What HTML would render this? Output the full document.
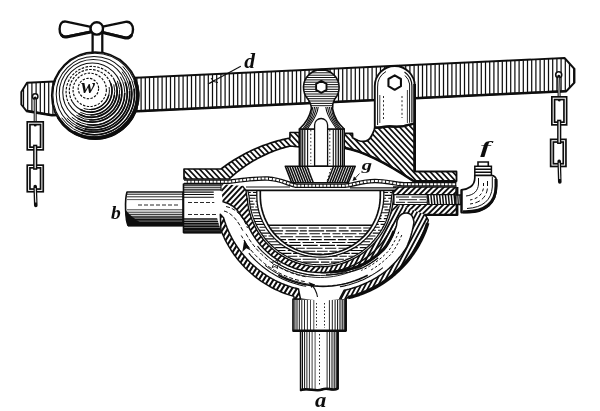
<!DOCTYPE html><html><head><meta charset="utf-8"><title>Diagram</title><style>html,body{margin:0;padding:0;background:#fff;width:600px;height:411px;overflow:hidden;font-family:"Liberation Serif",serif}</style></head><body><svg width="600" height="411" viewBox="0 0 600 411" style="display:block;position:absolute;left:0;top:0"><defs><filter id="soft" x="0" y="0" width="600" height="411" filterUnits="userSpaceOnUse"><feGaussianBlur stdDeviation="0.35"/></filter><clipPath id="c1"><path d="M27,82.7 L564.5,58.0 L574.5,69 L574.5,82.5 L566.5,91.0 L52,115.1 L26.4,110.8 L21.3,104.5 L21.3,92 Z"/></clipPath><clipPath id="c2"><path d="M51.8,95.5 a43.4,43.4 0 1,0 86.8,0 a43.4,43.4 0 1,0 -86.8,0Z"/></clipPath><clipPath id="c3"><path d="M393,187 L456,187 L456.5,214.4 L425,214.4 L428.32,220.21 L427.22,223.95 L425.98,227.64 L424.60,231.29 L423.10,234.89 L421.47,238.43 L419.72,241.91 L417.84,245.32 L415.85,248.67 L413.73,251.95 L411.50,255.14 L409.16,258.26 L406.70,261.29 L404.14,264.23 L401.48,267.07 L398.72,269.82 L395.86,272.47 L392.91,275.02 L389.87,277.46 L386.74,279.79 L383.54,282.00 L380.26,284.10 L376.90,286.09 L373.47,287.95 L369.99,289.69 L366.44,291.30 L362.83,292.78 L359.18,294.14 L355.48,295.36 L351.74,296.45 L347.96,297.41 L346,299 L320,299 L320,266.7 L320.30,266.70 L323.08,266.65 L325.85,266.49 L328.62,266.23 L331.37,265.86 L334.11,265.39 L336.83,264.81 L339.52,264.13 L342.19,263.35 L344.82,262.47 L347.42,261.49 L349.99,260.41 L352.50,259.24 L354.98,257.97 L357.40,256.60 L359.76,255.15 L362.08,253.61 L364.33,251.98 L366.52,250.27 L368.64,248.47 L370.69,246.60 L372.67,244.65 L374.57,242.62 L376.39,240.53 L378.14,238.36 L379.80,236.14 L381.38,233.85 L382.86,231.50 L384.26,229.10 L385.57,226.65 L386.78,224.15 L387.89,221.60 L388.91,219.02 L389.83,216.39 L390.65,213.74 L391.36,211.05 L391.98,208.34 L392.49,205.61 L392.90,202.86 L393.20,200.10 L393.40,197.33 L393.5,190.5 Z"/></clipPath><clipPath id="c4"><path d="M300,180 L470,180 L470,215 L426,215 L400,205 L388,215 L388,180Z"/></clipPath><clipPath id="c5"><path d="M300,180 L388,180 L388,215 L400,205 L426,215 L470,215 L470,310 L300,310Z"/></clipPath><clipPath id="c6"><path d="M221.66,231.94 L222.96,235.02 L224.35,238.05 L225.83,241.05 L227.40,243.99 L229.07,246.88 L230.82,249.73 L232.65,252.51 L234.57,255.24 L236.58,257.92 L238.66,260.52 L240.82,263.07 L243.06,265.54 L245.38,267.95 L247.76,270.28 L250.22,272.54 L252.74,274.73 L255.33,276.84 L257.99,278.86 L260.70,280.81 L263.47,282.67 L266.30,284.44 L269.18,286.13 L272.11,287.73 L275.09,289.24 L278.11,290.66 L281.17,291.98 L284.28,293.21 L287.42,294.35 L290.59,295.38 L293.79,296.32 L294.4,299 L300.5,299 L299,292 L298.57,289.00 L295.09,288.10 L291.65,287.12 L288.23,286.01 L284.86,284.77 L281.53,283.42 L278.25,281.95 L275.02,280.37 L271.84,278.66 L268.73,276.85 L265.68,274.93 L262.70,272.89 L259.79,270.75 L256.96,268.51 L254.20,266.17 L251.53,263.73 L248.95,261.19 L246.45,258.56 L244.05,255.85 L241.75,253.05 L239.55,250.16 L237.44,247.20 L235.45,244.16 L233.56,241.06 L231.78,237.88 L230.11,234.64 L228.56,231.35 L227.13,227.99 L225.81,224.59 L224.62,221.14 L223.54,217.65 L220.3,214.3 L221,232.5 Z"/></clipPath><clipPath id="c7"><path d="M320.30,272.50 L317.27,272.44 L314.24,272.27 L311.22,271.98 L308.21,271.57 L305.23,271.05 L302.26,270.41 L299.32,269.66 L296.41,268.80 L293.54,267.83 L290.71,266.75 L287.92,265.56 L285.17,264.26 L282.48,262.86 L279.85,261.36 L277.27,259.75 L274.76,258.05 L272.32,256.26 L269.94,254.37 L267.64,252.39 L265.42,250.33 L263.28,248.18 L261.22,245.95 L259.25,243.64 L257.37,241.26 L255.59,238.81 L253.90,236.29 L252.30,233.71 L250.81,231.07 L249.42,228.38 L248.13,225.63 L240,214 C236,207 230,203.5 222.5,201.5 L221.3,184 L242.4,186 L246,190.5 L247,198 L247.28,198.61 L247.63,202.25 L248.15,205.88 L248.86,209.47 L249.75,213.02 L250.82,216.52 L252.05,219.97 L253.46,223.35 L255.04,226.66 L256.78,229.88 L258.68,233.01 L260.73,236.04 L262.93,238.97 L265.28,241.78 L267.76,244.47 L270.38,247.04 L273.12,249.46 L275.98,251.75 L278.94,253.90 L282.02,255.89 L285.19,257.73 L288.44,259.40 L291.78,260.91 L295.18,262.26 L298.65,263.43 L302.18,264.42 L305.75,265.24 L309.35,265.88 L312.99,266.33 L316.64,266.61 L320.30,266.70Z"/></clipPath><clipPath id="c8"><path d="M247.80,190.50 L249.07,196.61 L249.39,200.95 L249.98,205.27 L250.83,209.54 L251.94,213.75 L253.30,217.89 L254.91,221.93 L256.77,225.87 L258.87,229.69 L261.19,233.37 L263.73,236.90 L266.49,240.28 L269.45,243.47 L272.59,246.49 L275.91,249.30 L279.40,251.91 L283.05,254.29 L286.83,256.45 L290.73,258.38 L294.75,260.06 L298.86,261.50 L303.05,262.68 L307.31,263.61 L311.61,264.27 L315.95,264.67 L320.30,264.80 L324.65,264.67 L328.99,264.27 L333.29,263.61 L337.55,262.68 L341.74,261.50 L345.85,260.06 L349.87,258.38 L353.77,256.45 L357.55,254.29 L361.20,251.91 L364.69,249.30 L368.01,246.49 L371.15,243.47 L374.11,240.28 L376.87,236.90 L379.41,233.37 L381.73,229.69 L383.83,225.87 L385.69,221.93 L387.30,217.89 L388.66,213.75 L389.77,209.54 L390.62,205.27 L391.21,200.95 L391.53,196.61 L392.80,190.50Z"/></clipPath><clipPath id="c9"><path d="M260.30,190.50 L260.30,196.00 L260.42,199.68 L260.77,203.34 L261.36,206.98 L262.19,210.57 L263.24,214.11 L264.51,217.57 L266.01,220.95 L267.72,224.23 L269.64,227.40 L271.76,230.44 L274.07,233.35 L276.56,236.11 L279.23,238.72 L282.05,241.15 L285.03,243.41 L288.15,245.48 L291.39,247.35 L294.75,249.02 L298.21,250.48 L301.76,251.73 L305.38,252.76 L309.06,253.56 L312.78,254.14 L316.53,254.48 L320.30,254.60 L324.07,254.48 L327.82,254.14 L331.54,253.56 L335.22,252.76 L338.84,251.73 L342.39,250.48 L345.85,249.02 L349.21,247.35 L352.45,245.48 L355.57,243.41 L358.55,241.15 L361.37,238.72 L364.04,236.11 L366.53,233.35 L368.84,230.44 L370.96,227.40 L372.88,224.23 L374.59,220.95 L376.09,217.57 L377.36,214.11 L378.41,210.57 L379.24,206.98 L379.83,203.34 L380.18,199.68 L380.30,196.00 L380.30,190.50Z"/></clipPath><clipPath id="c10"><path d="M250,225.3 L392,225.3 L392,262 L250,262Z"/></clipPath><clipPath id="c11"><path d="M184,169 L221.04,168.97 L223.07,167.45 L225.13,165.96 L227.21,164.50 L229.31,163.07 L231.43,161.67 L233.57,160.31 L235.73,158.98 L237.91,157.68 L240.11,156.41 L242.34,155.18 L244.57,153.98 L246.83,152.82 L249.11,151.69 L251.40,150.60 L253.71,149.54 L256.03,148.52 L258.37,147.53 L260.72,146.58 L263.09,145.66 L265.48,144.78 L267.87,143.94 L270.28,143.13 L272.70,142.36 L275.13,141.63 L277.57,140.93 L280.02,140.27 L282.49,139.65 L284.96,139.07 L287.44,138.52 L289.93,138.02 L290,132.5 L299.4,132.5 L299.4,147 L290.07,146.01 L287.80,146.58 L285.54,147.19 L283.29,147.83 L281.06,148.52 L278.84,149.24 L276.62,150.01 L274.43,150.81 L272.24,151.64 L270.08,152.52 L267.92,153.43 L265.79,154.38 L263.66,155.37 L261.56,156.39 L259.48,157.45 L257.41,158.54 L255.36,159.67 L253.34,160.84 L251.33,162.04 L249.34,163.27 L247.38,164.54 L245.43,165.84 L243.51,167.18 L241.62,168.55 L239.74,169.95 L237.90,171.38 L236.07,172.84 L234.27,174.34 L232.50,175.86 L230.76,177.42 L229.04,179.01 L184,179Z"/></clipPath><clipPath id="c12"><path d="M343.8,133.4 L352.5,133.4 L352.5,137.8 L358,140.5 C364,142.5 369,141 371.5,136 C373.5,132 374.8,130 374.8,127.3 C380,128.5 384,126 390,126.3 C398,127 404,126.5 408,125 L414.8,123.5 L414.8,171.5 L456.5,171.5 L456.5,181 L413.5,181 C382,160 358,150 343.8,147.7Z"/></clipPath><clipPath id="c13"><path d="M285.3,166.3 L355.2,166.3 L348.3,182.8 L291.7,182.8Z"/></clipPath><clipPath id="c14"><path d="M311.3,109 C309.5,118 304,125 299.4,129 L344.2,129 C339.5,125 334.3,118 332.6,109 C332.4,105 333,102 334.5,99.4 A17.8,17.8 0 1,0 308.1,99.4 C309.8,102 311.5,105 311.3,109Z"/></clipPath></defs><rect width="600" height="411" fill="#fff"/><g filter="url(#soft)"><path d="M27,82.7 L564.5,58.0 L574.5,69 L574.5,82.5 L566.5,91.0 L52,115.1 L26.4,110.8 L21.3,104.5 L21.3,92 Z" fill="#fff" stroke="none"/><g clip-path="url(#c1)"><path d="M586.30,-201.66L586.30,371.66M582.10,-201.66L582.10,371.66M577.90,-201.66L577.90,371.66M573.70,-201.66L573.70,371.66M569.50,-201.66L569.50,371.66M565.30,-201.66L565.30,371.66M561.10,-201.66L561.10,371.66M556.90,-201.66L556.90,371.66M552.70,-201.66L552.70,371.66M548.50,-201.66L548.50,371.66M544.30,-201.66L544.30,371.66M540.10,-201.66L540.10,371.66M535.90,-201.66L535.90,371.66M531.70,-201.66L531.70,371.66M527.50,-201.66L527.50,371.66M523.30,-201.66L523.30,371.66M519.10,-201.66L519.10,371.66M514.90,-201.66L514.90,371.66M510.70,-201.66L510.70,371.66M506.50,-201.66L506.50,371.66M502.30,-201.66L502.30,371.66M498.10,-201.66L498.10,371.66M493.90,-201.66L493.90,371.66M489.70,-201.66L489.70,371.66M485.50,-201.66L485.50,371.66M481.30,-201.66L481.30,371.66M477.10,-201.66L477.10,371.66M472.90,-201.66L472.90,371.66M468.70,-201.66L468.70,371.66M464.50,-201.66L464.50,371.66M460.30,-201.66L460.30,371.66M456.10,-201.66L456.10,371.66M451.90,-201.66L451.90,371.66M447.70,-201.66L447.70,371.66M443.50,-201.66L443.50,371.66M439.30,-201.66L439.30,371.66M435.10,-201.66L435.10,371.66M430.90,-201.66L430.90,371.66M426.70,-201.66L426.70,371.66M422.50,-201.66L422.50,371.66M418.30,-201.66L418.30,371.66M414.10,-201.66L414.10,371.66M409.90,-201.66L409.90,371.66M405.70,-201.66L405.70,371.66M401.50,-201.66L401.50,371.66M397.30,-201.66L397.30,371.66M393.10,-201.66L393.10,371.66M388.90,-201.66L388.90,371.66M384.70,-201.66L384.70,371.66M380.50,-201.66L380.50,371.66M376.30,-201.66L376.30,371.66M372.10,-201.66L372.10,371.66M367.90,-201.66L367.90,371.66M363.70,-201.66L363.70,371.66M359.50,-201.66L359.50,371.66M355.30,-201.66L355.30,371.66M351.10,-201.66L351.10,371.66M346.90,-201.66L346.90,371.66M342.70,-201.66L342.70,371.66M338.50,-201.66L338.50,371.66M334.30,-201.66L334.30,371.66M330.10,-201.66L330.10,371.66M325.90,-201.66L325.90,371.66M321.70,-201.66L321.70,371.66M317.50,-201.66L317.50,371.66M313.30,-201.66L313.30,371.66M309.10,-201.66L309.10,371.66M304.90,-201.66L304.90,371.66M300.70,-201.66L300.70,371.66M296.50,-201.66L296.50,371.66M292.30,-201.66L292.30,371.66M288.10,-201.66L288.10,371.66M283.90,-201.66L283.90,371.66M279.70,-201.66L279.70,371.66M275.50,-201.66L275.50,371.66M271.30,-201.66L271.30,371.66M267.10,-201.66L267.10,371.66M262.90,-201.66L262.90,371.66M258.70,-201.66L258.70,371.66M254.50,-201.66L254.50,371.66M250.30,-201.66L250.30,371.66M246.10,-201.66L246.10,371.66M241.90,-201.66L241.90,371.66M237.70,-201.66L237.70,371.66M233.50,-201.66L233.50,371.66M229.30,-201.66L229.30,371.66M225.10,-201.66L225.10,371.66M220.90,-201.66L220.90,371.66M216.70,-201.66L216.70,371.66M212.50,-201.66L212.50,371.66M208.30,-201.66L208.30,371.66M204.10,-201.66L204.10,371.66M199.90,-201.66L199.90,371.66M195.70,-201.66L195.70,371.66M191.50,-201.66L191.50,371.66M187.30,-201.66L187.30,371.66M183.10,-201.66L183.10,371.66M178.90,-201.66L178.90,371.66M174.70,-201.66L174.70,371.66M170.50,-201.66L170.50,371.66M166.30,-201.66L166.30,371.66M162.10,-201.66L162.10,371.66M157.90,-201.66L157.90,371.66M153.70,-201.66L153.70,371.66M149.50,-201.66L149.50,371.66M145.30,-201.66L145.30,371.66M141.10,-201.66L141.10,371.66M136.90,-201.66L136.90,371.66M132.70,-201.66L132.70,371.66M128.50,-201.66L128.50,371.66M124.30,-201.66L124.30,371.66M120.10,-201.66L120.10,371.66M115.90,-201.66L115.90,371.66M111.70,-201.66L111.70,371.66M107.50,-201.66L107.50,371.66M103.30,-201.66L103.30,371.66M99.10,-201.66L99.10,371.66M94.90,-201.66L94.90,371.66M90.70,-201.66L90.70,371.66M86.50,-201.66L86.50,371.66M82.30,-201.66L82.30,371.66M78.10,-201.66L78.10,371.66M73.90,-201.66L73.90,371.66M69.70,-201.66L69.70,371.66M65.50,-201.66L65.50,371.66M61.30,-201.66L61.30,371.66M57.10,-201.66L57.10,371.66M52.90,-201.66L52.90,371.66M48.70,-201.66L48.70,371.66M44.50,-201.66L44.50,371.66M40.30,-201.66L40.30,371.66M36.10,-201.66L36.10,371.66M31.90,-201.66L31.90,371.66M27.70,-201.66L27.70,371.66M23.50,-201.66L23.50,371.66M19.30,-201.66L19.30,371.66M15.10,-201.66L15.10,371.66M10.90,-201.66L10.90,371.66M6.70,-201.66L6.70,371.66" stroke="#111" stroke-width="1.25" fill="none"/></g><path d="M27,82.7 L564.5,58.0 L574.5,69 L574.5,82.5 L566.5,91.0 L52,115.1 L26.4,110.8 L21.3,104.5 L21.3,92 Z" fill="none" stroke="#111" stroke-width="1.90" stroke-linejoin="round"/>
<path d="M26.4,111 L52,115.3 L566.5,91.2" stroke="#111" stroke-width="2.4" fill="none" stroke-linejoin="round"/>
<circle cx="35.2" cy="96.5" r="2.7" fill="#fff" stroke="#111" stroke-width="1.5"/>
<circle cx="558.7" cy="74.7" r="3" fill="#fff" stroke="#111" stroke-width="1.6"/>
<path d="M35.2,98.0 L35.2,125.0" stroke="#111" stroke-width="3.0" fill="none" stroke-linecap="round"/><path d="M35.2,99.5 L35.2,122.0" stroke="#fff" stroke-width="0.9" fill="none"/><rect x="28.6" y="123.2" width="13.3" height="25.3" fill="none" stroke="#111" stroke-width="4.4"/><rect x="28.6" y="123.2" width="13.3" height="25.3" fill="none" stroke="#fff" stroke-width="1.0"/><rect x="28.6" y="166.5" width="13.3" height="23.9" fill="none" stroke="#111" stroke-width="4.4"/><rect x="28.6" y="166.5" width="13.3" height="23.9" fill="none" stroke="#fff" stroke-width="1.0"/><path d="M35.2,144.7 L35.2,169.8" stroke="#111" stroke-width="4.2" fill="none"/><path d="M35.2,146.2 L35.2,168.3" stroke="#fff" stroke-width="1.2" fill="none"/><path d="M35.2,186.6 L35.8,205.5" stroke="#111" stroke-width="3.6" fill="none" stroke-linecap="round"/><path d="M35.2,188.1 L35.8,202.5" stroke="#fff" stroke-width="1.0" fill="none"/>
<path d="M558.7,76.2 L559.2,100.0" stroke="#111" stroke-width="3.0" fill="none" stroke-linecap="round"/><path d="M558.7,77.7 L559.2,97.0" stroke="#fff" stroke-width="0.9" fill="none"/><rect x="553.2" y="98.2" width="12.1" height="25.3" fill="none" stroke="#111" stroke-width="4.4"/><rect x="553.2" y="98.2" width="12.1" height="25.3" fill="none" stroke="#fff" stroke-width="1.0"/><rect x="552.0" y="140.7" width="12.6" height="24.4" fill="none" stroke="#111" stroke-width="4.4"/><rect x="552.0" y="140.7" width="12.6" height="24.4" fill="none" stroke="#fff" stroke-width="1.0"/><path d="M559.2,119.7 L559.2,144.0" stroke="#111" stroke-width="4.2" fill="none"/><path d="M559.2,121.2 L559.2,142.5" stroke="#fff" stroke-width="1.2" fill="none"/><path d="M559.2,161.3 L559.8,182.0" stroke="#111" stroke-width="3.6" fill="none" stroke-linecap="round"/><path d="M559.2,162.8 L559.8,179.0" stroke="#fff" stroke-width="1.0" fill="none"/>
<path d="M92.6,33 L92.6,56 L102.3,56 L102.3,33 Z" fill="#fff" stroke="#111" stroke-width="2.3"/>
<path d="M90.8,26.9 L66,21.6 C61.5,21 59.6,24.5 59.6,29 C59.6,34 61.5,37.3 66.5,36.6 L90.8,31.8 Z" fill="#fff" stroke="#111" stroke-width="2.4" stroke-linejoin="round"/>
<path d="M102.8,26.7 L125.5,21.9 C130.5,21.2 133,25 133,29.6 C133,34.6 130.5,38.2 125.5,37.6 L102.8,32.3 Z" fill="#fff" stroke="#111" stroke-width="2.4" stroke-linejoin="round"/>
<path d="M62,35.5 C63,37 64.5,37.2 66.5,36.9 L90.8,32.1 M102.8,32.6 L125.5,37.9 C128,38.2 130,37.4 131.3,35.5" fill="none" stroke="#111" stroke-width="3.1" stroke-linecap="round"/>
<circle cx="96.8" cy="28.4" r="6.2" fill="#fff" stroke="#111" stroke-width="2.4"/>
<ellipse cx="95.2" cy="95.5" rx="43.4" ry="43.4" fill="#fff" stroke="#111" stroke-width="1.8"/>
<g clip-path="url(#c2)"><circle cx="88.40" cy="88.50" r="10.20" fill="none" stroke="#111" stroke-width="1.15" stroke-dasharray="2.4 1.4"/><circle cx="89.71" cy="89.85" r="16.66" fill="none" stroke="#111" stroke-width="1.15" stroke-dasharray="2.4 1.4"/><path d="M109.10,87.01 A19.20,19.20 0 0,1 83.62,108.38" fill="none" stroke="#111" stroke-width="1.00"/><path d="M108.91,94.60 A19.20,19.20 0 0,1 91.13,109.52" fill="none" stroke="#111" stroke-width="1.49"/><path d="M72.18,101.50 A21.34,21.34 0 0,1 109.15,80.16" fill="none" stroke="#111" stroke-width="1.15" stroke-dasharray="2.6 1.3"/><path d="M109.15,80.16 A21.34,21.34 0 0,1 72.18,101.50" fill="none" stroke="#111" stroke-width="1.2"/><path d="M110.72,83.53 A21.34,21.34 0 0,1 80.00,109.32" fill="none" stroke="#111" stroke-width="1.60"/><path d="M113.76,84.36 A23.69,23.69 0 0,1 80.35,112.40" fill="none" stroke="#111" stroke-width="1.00"/><path d="M114.54,94.77 A23.69,23.69 0 0,1 90.47,114.97" fill="none" stroke="#111" stroke-width="1.53"/><path d="M69.33,104.56 A25.65,25.65 0 0,1 113.75,78.91" fill="none" stroke="#111" stroke-width="1.15" stroke-dasharray="2.6 1.3"/><path d="M113.75,78.91 A25.65,25.65 0 0,1 69.33,104.56" fill="none" stroke="#111" stroke-width="1.2"/><path d="M115.64,82.96 A25.65,25.65 0 0,1 78.72,113.95" fill="none" stroke="#111" stroke-width="1.65"/><path d="M117.35,80.83 A27.81,27.81 0 0,1 76.39,115.20" fill="none" stroke="#111" stroke-width="1.00"/><path d="M119.68,94.14 A27.81,27.81 0 0,1 89.09,119.81" fill="none" stroke="#111" stroke-width="1.57"/><circle cx="92.34" cy="92.56" r="29.57" fill="none" stroke="#111" stroke-width="1.05"/><path d="M120.13,82.44 A29.57,29.57 0 0,1 77.55,118.17" fill="none" stroke="#111" stroke-width="1.70"/><path d="M120.21,76.55 A31.99,31.99 0 0,1 71.81,117.16" fill="none" stroke="#111" stroke-width="1.00"/><path d="M124.78,92.90 A31.99,31.99 0 0,1 87.12,124.50" fill="none" stroke="#111" stroke-width="1.61"/><circle cx="93.24" cy="93.48" r="34.00" fill="none" stroke="#111" stroke-width="1.05"/><path d="M125.20,81.85 A34.00,34.00 0 0,1 76.24,122.93" fill="none" stroke="#111" stroke-width="1.75"/><path d="M122.08,71.66 A36.10,36.10 0 0,1 66.80,118.04" fill="none" stroke="#111" stroke-width="1.00"/><path d="M129.62,91.01 A36.10,36.10 0 0,1 84.55,128.83" fill="none" stroke="#111" stroke-width="1.65"/><circle cx="94.02" cy="94.28" r="37.80" fill="none" stroke="#111" stroke-width="1.05"/><path d="M129.54,81.35 A37.80,37.80 0 0,1 75.11,127.02" fill="none" stroke="#111" stroke-width="1.80"/><path d="M122.79,66.37 A40.09,40.09 0 1,1 61.60,117.71" fill="none" stroke="#111" stroke-width="1.00"/><path d="M134.05,88.52 A40.09,40.09 0 0,1 81.45,132.65" fill="none" stroke="#111" stroke-width="1.69"/><circle cx="94.87" cy="95.16" r="41.98" fill="none" stroke="#111" stroke-width="1.05"/><path d="M134.31,80.80 A41.98,41.98 0 0,1 73.87,131.51" fill="none" stroke="#111" stroke-width="1.85"/><path d="M122.34,60.85 A44.02,44.02 0 1,1 56.37,116.20" fill="none" stroke="#111" stroke-width="1.00"/><path d="M138.09,85.46 A44.02,44.02 0 0,1 77.87,135.98" fill="none" stroke="#111" stroke-width="1.73"/><path fill="#111" d="M129.32,68.84 A43.30,43.30 0 0,1 63.02,124.47 A43.53,43.53 0 0,0 129.32,68.84Z"/></g>
<path d="M134.26,77.29 A43.10,43.10 0 0,1 57.87,117.05" fill="none" stroke="#111" stroke-width="2.6"/>
<text x="81.3" y="93" font-family="'Liberation Serif', serif" font-size="20.5" font-style="italic" font-weight="bold" fill="#111">w</text>
<text x="244.2" y="67.6" font-family="'Liberation Serif', serif" font-size="21.5" font-style="italic" font-weight="bold" fill="#111">d</text>
<text transform="translate(361.8,169.8) scale(1.32,1)" x="0" y="0" font-family="'Liberation Serif', serif" font-size="15.6" font-style="italic" font-weight="bold" fill="#111">g</text>
<text transform="translate(480.2,152.9) scale(1.82,1)" x="0" y="0" font-family="'Liberation Serif', serif" font-size="17.5" font-style="italic" font-weight="bold" fill="#111">f</text>
<text x="111" y="218.9" font-family="'Liberation Serif', serif" font-size="19.5" font-style="italic" font-weight="bold" fill="#111">b</text>
<text transform="translate(315,407.1) scale(1.13,1)" x="0" y="0" font-family="'Liberation Serif', serif" font-size="20" font-style="italic" font-weight="bold" fill="#111">a</text>
<path d="M240.8,66.2 L208,84" stroke="#111" stroke-width="1.1" fill="none"/>
<path d="M211,78 L213.5,81.5 L218,82.5 M209.5,83.5 L215,80" stroke="#111" stroke-width="1" fill="none"/>
<path d="M127,192 L183,192 L183,225.5 L128,225.5 C125.5,220 124.5,200 127,192Z" fill="#fff" stroke="#111" stroke-width="1.60" stroke-linejoin="round"/>
<path d="M127,194.2 L183,194.2" fill="none" stroke="#111" stroke-width="1.00" stroke-linejoin="round" />
<path d="M127,196.8 L183,196.8" fill="none" stroke="#111" stroke-width="0.90" stroke-linejoin="round" />
<path d="M127,199.6 L183,199.6" fill="none" stroke="#111" stroke-width="0.70" stroke-linejoin="round" />
<path d="M127,209.8 L183,209.8" fill="none" stroke="#111" stroke-width="0.80" stroke-linejoin="round" />
<path d="M127,212.2 L183,212.2" fill="none" stroke="#111" stroke-width="0.90" stroke-linejoin="round" />
<path d="M127,214.3 L183,214.3" fill="none" stroke="#111" stroke-width="1.00" stroke-linejoin="round" />
<path d="M127,216.2 L183,216.2" fill="none" stroke="#111" stroke-width="1.10" stroke-linejoin="round" />
<path d="M127,217.9 L183,217.9" fill="none" stroke="#111" stroke-width="1.20" stroke-linejoin="round" />
<path d="M127,219.5 L183,219.5" fill="none" stroke="#111" stroke-width="1.30" stroke-linejoin="round" />
<path d="M127,220.9 L183,220.9" fill="none" stroke="#111" stroke-width="1.30" stroke-linejoin="round" />
<path d="M127,222.2 L183,222.2" fill="none" stroke="#111" stroke-width="1.40" stroke-linejoin="round" />
<path d="M127,223.4 L183,223.4" fill="none" stroke="#111" stroke-width="1.40" stroke-linejoin="round" />
<path d="M127,224.5 L183,224.5" fill="none" stroke="#111" stroke-width="1.40" stroke-linejoin="round" />
<path d="M138,205 L180,205" fill="none" stroke="#111" stroke-width="0.90" stroke-linejoin="round" stroke-dasharray="4 2"/>
<path d="M125.5,210 C125.5,216 126.5,221 128,225.9 L147,225.9 C139,222.5 131.5,217 125.5,210Z" fill="#111"/>
<path d="M128,225.6 L183,225.6" fill="none" stroke="#111" stroke-width="2.00" stroke-linejoin="round" />
<path d="M183.5,184 L221.3,184 L221.3,200 L219.5,207 L222,214 L221,232.5 L183.5,232.5Z" fill="#fff" stroke="#111" stroke-width="1.60" stroke-linejoin="round"/>
<path d="M184,185.8 L221,185.8" fill="none" stroke="#111" stroke-width="1.10" stroke-linejoin="round" />
<path d="M184,187.8 L221,187.8" fill="none" stroke="#111" stroke-width="1.10" stroke-linejoin="round" />
<path d="M184,189.9 L221,189.9" fill="none" stroke="#111" stroke-width="1.10" stroke-linejoin="round" />
<path d="M184,192.1 L221,192.1" fill="none" stroke="#111" stroke-width="1.10" stroke-linejoin="round" />
<path d="M184,194.5 L221,194.5" fill="none" stroke="#111" stroke-width="1.10" stroke-linejoin="round" />
<path d="M184,197.2 L221,197.2" fill="none" stroke="#111" stroke-width="1.10" stroke-linejoin="round" />
<path d="M184,219.0 L221,219.0" fill="none" stroke="#111" stroke-width="1.35" stroke-linejoin="round" />
<path d="M184,221.2 L221,221.2" fill="none" stroke="#111" stroke-width="1.35" stroke-linejoin="round" />
<path d="M184,223.2 L221,223.2" fill="none" stroke="#111" stroke-width="1.35" stroke-linejoin="round" />
<path d="M184,225.0 L221,225.0" fill="none" stroke="#111" stroke-width="1.35" stroke-linejoin="round" />
<path d="M184,226.7 L221,226.7" fill="none" stroke="#111" stroke-width="1.35" stroke-linejoin="round" />
<path d="M184,228.3 L221,228.3" fill="none" stroke="#111" stroke-width="1.35" stroke-linejoin="round" />
<path d="M184,229.7 L221,229.7" fill="none" stroke="#111" stroke-width="1.35" stroke-linejoin="round" />
<path d="M184,231.0 L221,231.0" fill="none" stroke="#111" stroke-width="1.35" stroke-linejoin="round" />
<path d="M188,202.5 L219,202.5" fill="none" stroke="#111" stroke-width="0.90" stroke-linejoin="round" stroke-dasharray="4 2"/>
<path d="M188,214.5 L219,214.5" fill="none" stroke="#111" stroke-width="0.90" stroke-linejoin="round" stroke-dasharray="4 2"/>
<path d="M183.5,232.3 L221,232.3" fill="none" stroke="#111" stroke-width="2.20" stroke-linejoin="round" />
<path d="M300.6,330 L338,330 L338,388.5 C332,392 328,387 322,389.5 C316,392 308,387.5 300.6,390.5Z" fill="#fff" stroke="#111" stroke-width="1.60" stroke-linejoin="round"/>
<path d="M302.5,331 L302.5,389.5" fill="none" stroke="#111" stroke-width="1.05" stroke-linejoin="round" />
<path d="M336.2,331 L336.2,389" fill="none" stroke="#111" stroke-width="1.15" stroke-linejoin="round" />
<path d="M304.6,331 L304.6,389.5" fill="none" stroke="#111" stroke-width="0.99" stroke-linejoin="round" />
<path d="M334.2,331 L334.2,389" fill="none" stroke="#111" stroke-width="1.09" stroke-linejoin="round" />
<path d="M306.9,331 L306.9,389.5" fill="none" stroke="#111" stroke-width="0.93" stroke-linejoin="round" />
<path d="M332.0,331 L332.0,389" fill="none" stroke="#111" stroke-width="1.03" stroke-linejoin="round" />
<path d="M309.4,331 L309.4,389.5" fill="none" stroke="#111" stroke-width="0.87" stroke-linejoin="round" />
<path d="M329.6,331 L329.6,389" fill="none" stroke="#111" stroke-width="0.97" stroke-linejoin="round" />
<path d="M312.1,331 L312.1,389.5" fill="none" stroke="#111" stroke-width="0.81" stroke-linejoin="round" />
<path d="M327.1,331 L327.1,389" fill="none" stroke="#111" stroke-width="0.91" stroke-linejoin="round" />
<path d="M315.1,331 L315.1,389.5" fill="none" stroke="#111" stroke-width="0.75" stroke-linejoin="round" />
<path d="M319.5,334 L319.5,386" fill="none" stroke="#111" stroke-width="0.90" stroke-linejoin="round" stroke-dasharray="1.5 2"/>
<path d="M337.8,331 L337.8,389" fill="none" stroke="#111" stroke-width="2.00" stroke-linejoin="round" />
<path d="M300.6,390 C308,387.5 316,392 322,389.5 C328,387 332,391.5 338,388.5" fill="none" stroke="#111" stroke-width="2.60" stroke-linejoin="round" />
<path d="M293,299 L346,299 L346,331 L293,331Z" fill="#fff" stroke="#111" stroke-width="1.70" stroke-linejoin="round"/>
<path d="M294.9,300 L294.9,330.5" fill="none" stroke="#111" stroke-width="1.10" stroke-linejoin="round" />
<path d="M344.2,300 L344.2,330.5" fill="none" stroke="#111" stroke-width="1.20" stroke-linejoin="round" />
<path d="M297.0,300 L297.0,330.5" fill="none" stroke="#111" stroke-width="1.05" stroke-linejoin="round" />
<path d="M342.2,300 L342.2,330.5" fill="none" stroke="#111" stroke-width="1.15" stroke-linejoin="round" />
<path d="M299.3,300 L299.3,330.5" fill="none" stroke="#111" stroke-width="1.00" stroke-linejoin="round" />
<path d="M340.0,300 L340.0,330.5" fill="none" stroke="#111" stroke-width="1.10" stroke-linejoin="round" />
<path d="M301.8,300 L301.8,330.5" fill="none" stroke="#111" stroke-width="0.95" stroke-linejoin="round" />
<path d="M337.6,300 L337.6,330.5" fill="none" stroke="#111" stroke-width="1.05" stroke-linejoin="round" />
<path d="M304.5,300 L304.5,330.5" fill="none" stroke="#111" stroke-width="0.90" stroke-linejoin="round" />
<path d="M335.1,300 L335.1,330.5" fill="none" stroke="#111" stroke-width="1.00" stroke-linejoin="round" />
<path d="M307.4,300 L307.4,330.5" fill="none" stroke="#111" stroke-width="0.85" stroke-linejoin="round" />
<path d="M332.3,300 L332.3,330.5" fill="none" stroke="#111" stroke-width="0.95" stroke-linejoin="round" />
<path d="M310.5,300 L310.5,330.5" fill="none" stroke="#111" stroke-width="0.80" stroke-linejoin="round" />
<path d="M329.4,300 L329.4,330.5" fill="none" stroke="#111" stroke-width="0.90" stroke-linejoin="round" />
<path d="M313.8,300 L313.8,330.5" fill="none" stroke="#111" stroke-width="0.75" stroke-linejoin="round" />
<path d="M316.5,303 L316.5,328" fill="none" stroke="#111" stroke-width="0.90" stroke-linejoin="round" stroke-dasharray="1.5 2"/>
<path d="M324.5,303 L324.5,328" fill="none" stroke="#111" stroke-width="0.90" stroke-linejoin="round" stroke-dasharray="1.5 2"/>
<path d="M293,330.8 L346,330.8" fill="none" stroke="#111" stroke-width="2.40" stroke-linejoin="round" />
<path d="M345.8,299 L345.8,331" fill="none" stroke="#111" stroke-width="2.20" stroke-linejoin="round" />
<path d="M432.30,191.00 L432.15,196.72 L431.70,202.42 L430.95,208.10 L429.91,213.72 L428.58,219.29 L426.95,224.78 L425.04,230.17 L422.85,235.46 L420.39,240.62 L417.66,245.65 L414.67,250.53 L411.43,255.24 L407.94,259.78 L404.23,264.14 L400.29,268.29 L396.14,272.23 L391.78,275.94 L387.24,279.43 L382.53,282.67 L377.65,285.66 L372.62,288.39 L367.46,290.85 L362.17,293.04 L356.78,294.95 L351.29,296.58 L345.72,297.91 L340.10,298.95 L334.42,299.70 L328.72,300.15 L323.00,300.30 L317.28,300.15 L311.58,299.70 L305.90,298.95 L300.28,297.91 L294.71,296.58 L289.22,294.95 L283.83,293.04 L278.54,290.85 L273.38,288.39 L268.35,285.66 L263.47,282.67 L258.76,279.43 L254.22,275.94 L249.86,272.23 L245.71,268.29 L241.77,264.14 L238.06,259.78 L234.57,255.24 L231.33,250.53 L228.34,245.65 L225.61,240.62 L223.15,235.46 L220.96,230.17 L219.05,224.78 L217.42,219.29 L216.09,213.72 L215.05,208.10 L214.30,202.42 L213.85,196.72 L213.70,191.00Z" fill="#fff"/>
<path d="M393,187 L456,187 L456.5,214.4 L425,214.4 L428.32,220.21 L427.22,223.95 L425.98,227.64 L424.60,231.29 L423.10,234.89 L421.47,238.43 L419.72,241.91 L417.84,245.32 L415.85,248.67 L413.73,251.95 L411.50,255.14 L409.16,258.26 L406.70,261.29 L404.14,264.23 L401.48,267.07 L398.72,269.82 L395.86,272.47 L392.91,275.02 L389.87,277.46 L386.74,279.79 L383.54,282.00 L380.26,284.10 L376.90,286.09 L373.47,287.95 L369.99,289.69 L366.44,291.30 L362.83,292.78 L359.18,294.14 L355.48,295.36 L351.74,296.45 L347.96,297.41 L346,299 L320,299 L320,266.7 L320.30,266.70 L323.08,266.65 L325.85,266.49 L328.62,266.23 L331.37,265.86 L334.11,265.39 L336.83,264.81 L339.52,264.13 L342.19,263.35 L344.82,262.47 L347.42,261.49 L349.99,260.41 L352.50,259.24 L354.98,257.97 L357.40,256.60 L359.76,255.15 L362.08,253.61 L364.33,251.98 L366.52,250.27 L368.64,248.47 L370.69,246.60 L372.67,244.65 L374.57,242.62 L376.39,240.53 L378.14,238.36 L379.80,236.14 L381.38,233.85 L382.86,231.50 L384.26,229.10 L385.57,226.65 L386.78,224.15 L387.89,221.60 L388.91,219.02 L389.83,216.39 L390.65,213.74 L391.36,211.05 L391.98,208.34 L392.49,205.61 L392.90,202.86 L393.20,200.10 L393.40,197.33 L393.5,190.5 Z" fill="#fff"/>
<g clip-path="url(#c4)"><g clip-path="url(#c3)"><path d="M252.33,242.90L386.90,108.33M255.16,245.73L389.73,111.16M257.99,248.56L392.56,113.99M260.82,251.39L395.39,116.82M263.64,254.22L398.22,119.64M266.47,257.05L401.05,122.47M269.30,259.88L403.88,125.30M272.13,262.70L406.70,128.13M274.96,265.53L409.53,130.96M277.79,268.36L412.36,133.79M280.61,271.19L415.19,136.61M283.44,274.02L418.02,139.44M286.27,276.85L420.85,142.27M289.10,279.67L423.67,145.10M291.93,282.50L426.50,147.93M294.76,285.33L429.33,150.76M297.59,288.16L432.16,153.59M300.41,290.99L434.99,156.41M303.24,293.82L437.82,159.24M306.07,296.65L440.65,162.07M308.90,299.47L443.47,164.90M311.73,302.30L446.30,167.73M314.56,305.13L449.13,170.56M317.38,307.96L451.96,173.38M320.21,310.79L454.79,176.21M323.04,313.62L457.62,179.04M325.87,316.44L460.44,181.87M328.70,319.27L463.27,184.70M331.53,322.10L466.10,187.53M334.35,324.93L468.93,190.35M337.18,327.76L471.76,193.18M340.01,330.59L474.59,196.01M342.84,333.41L477.41,198.84M345.67,336.24L480.24,201.67M348.50,339.07L483.07,204.50M351.33,341.90L485.90,207.33M354.15,344.73L488.73,210.15M356.98,347.56L491.56,212.98M359.81,350.39L494.39,215.81M362.64,353.21L497.21,218.64M365.47,356.04L500.04,221.47M368.30,358.87L502.87,224.30M371.12,361.70L505.70,227.12M373.95,364.53L508.53,229.95M376.78,367.36L511.36,232.78M379.61,370.18L514.18,235.61M382.44,373.01L517.01,238.44M385.27,375.84L519.84,241.27M388.10,378.67L522.67,244.10" stroke="#111" stroke-width="1.90" fill="none"/></g></g>
<g clip-path="url(#c5)"><g clip-path="url(#c3)"><path d="M255.59,281.14L344.94,113.10M258.95,282.92L348.29,114.88M262.30,284.70L351.65,116.66M265.66,286.49L355.00,118.45M269.01,288.27L358.36,120.23M272.37,290.06L361.71,122.02M275.72,291.84L365.07,123.80M279.08,293.62L368.43,125.58M282.43,295.41L371.78,127.37M285.79,297.19L375.14,129.15M289.14,298.98L378.49,130.94M292.50,300.76L381.85,132.72M295.85,302.54L385.20,134.50M299.21,304.33L388.56,136.29M302.56,306.11L391.91,138.07M305.92,307.90L395.27,139.86M309.27,309.68L398.62,141.64M312.63,311.46L401.98,143.42M315.98,313.25L405.33,145.21M319.34,315.03L408.69,146.99M322.69,316.82L412.04,148.78M326.05,318.60L415.40,150.56M329.41,320.38L418.75,152.34M332.76,322.17L422.11,154.13M336.12,323.95L425.46,155.91M339.47,325.74L428.82,157.70M342.83,327.52L432.17,159.48M346.18,329.30L435.53,161.26M349.54,331.09L438.88,163.05M352.89,332.87L442.24,164.83M356.25,334.66L445.59,166.62M359.60,336.44L448.95,168.40M362.96,338.22L452.31,170.18M366.31,340.01L455.66,171.97M369.67,341.79L459.02,173.75M373.02,343.58L462.37,175.54M376.38,345.36L465.73,177.32M379.73,347.14L469.08,179.10M383.09,348.93L472.44,180.89M386.44,350.71L475.79,182.67M389.80,352.50L479.15,184.46M393.15,354.28L482.50,186.24M396.51,356.06L485.86,188.02M399.86,357.85L489.21,189.81M403.22,359.63L492.57,191.59M406.57,361.42L495.92,193.38M409.93,363.20L499.28,195.16M413.29,364.98L502.63,196.94M416.64,366.77L505.99,198.73M420.00,368.55L509.34,200.51M423.35,370.34L512.70,202.30M426.71,372.12L516.05,204.08M430.06,373.90L519.41,205.86" stroke="#111" stroke-width="1.80" fill="none"/></g></g>
<path d="M320,299 L339.5,299 L344.10,290.28 L346.57,289.74 L349.02,289.14 L351.46,288.48 L353.88,287.75 L356.28,286.97 L358.66,286.13 L361.02,285.22 L363.36,284.26 L365.67,283.25 L367.96,282.17 L370.22,281.04 L372.45,279.85 L374.65,278.60 L376.82,277.31 L378.96,275.95 L381.07,274.55 L383.14,273.09 L385.17,271.58 L387.16,270.02 L389.09,268.39 L390.94,266.65 L392.74,264.87 L394.49,263.05 L396.20,261.19 L397.85,259.29 L399.46,257.35 L401.02,255.37 L402.52,253.36 L403.98,251.31 L405.38,249.22 L406.69,247.08 L407.69,244.75 L408.62,242.39 L409.49,240.03 L410.29,237.66 L411.03,235.27 L411.70,232.88 L412.31,230.48 L412.85,228.08 L413.34,225.68 C415,221 413,213 406,213 C399.5,213 396.5,220 396.6,225.1 L396.65,225.12 L395.89,227.45 L395.06,229.76 L394.16,232.05 L393.20,234.32 L392.16,236.57 L391.05,238.79 L389.87,240.98 L388.63,243.14 L387.32,245.27 L385.94,247.37 L384.32,249.28 L382.55,251.04 L380.72,252.75 L378.85,254.40 L376.94,255.99 L374.98,257.52 L372.98,258.99 L370.94,260.40 L368.87,261.75 L366.76,263.03 L364.61,264.24 L362.44,265.39 L360.17,266.36 L357.86,267.22 L355.54,268.01 L353.21,268.73 L350.86,269.37 L348.50,269.94 L346.14,270.44 L343.77,270.87 L341.40,271.22 L339.06,271.63 L336.71,271.98 L334.37,272.27 L332.02,272.48 L329.66,272.62 L327.32,272.70 L324.97,272.70 L322.63,272.63 L320.30,272.50 L320,272.5 Z" fill="#fff"/>
<path d="M339.5,299 L344.10,290.28 L346.57,289.74 L349.02,289.14 L351.46,288.48 L353.88,287.75 L356.28,286.97 L358.66,286.13 L361.02,285.22 L363.36,284.26 L365.67,283.25 L367.96,282.17 L370.22,281.04 L372.45,279.85 L374.65,278.60 L376.82,277.31 L378.96,275.95 L381.07,274.55 L383.14,273.09 L385.17,271.58 L387.16,270.02 L389.09,268.39 L390.94,266.65 L392.74,264.87 L394.49,263.05 L396.20,261.19 L397.85,259.29 L399.46,257.35 L401.02,255.37 L402.52,253.36 L403.98,251.31 L405.38,249.22 L406.69,247.08 L407.69,244.75 L408.62,242.39 L409.49,240.03 L410.29,237.66 L411.03,235.27 L411.70,232.88 L412.31,230.48 L412.85,228.08 L413.34,225.68 C415,221 413,213 406,213 C399.5,213 396.5,220 396.6,225.1 L396.65,225.12 L395.89,227.45 L395.06,229.76 L394.16,232.05 L393.20,234.32 L392.16,236.57 L391.05,238.79 L389.87,240.98 L388.63,243.14 L387.32,245.27 L385.94,247.37 L384.32,249.28 L382.55,251.04 L380.72,252.75 L378.85,254.40 L376.94,255.99 L374.98,257.52 L372.98,258.99 L370.94,260.40 L368.87,261.75 L366.76,263.03 L364.61,264.24 L362.44,265.39 L360.17,266.36 L357.86,267.22 L355.54,268.01 L353.21,268.73 L350.86,269.37 L348.50,269.94 L346.14,270.44 L343.77,270.87 L341.40,271.22 L339.06,271.63 L336.71,271.98 L334.37,272.27 L332.02,272.48 L329.66,272.62 L327.32,272.70 L324.97,272.70 L322.63,272.63 L320.30,272.50" fill="none" stroke="#111" stroke-width="1.50" stroke-linejoin="round" />
<path d="M393,187 L456,187 L456.5,214.4 L425,214.4 L428.32,220.21 L427.22,223.95 L425.98,227.64 L424.60,231.29 L423.10,234.89 L421.47,238.43 L419.72,241.91 L417.84,245.32 L415.85,248.67 L413.73,251.95 L411.50,255.14 L409.16,258.26 L406.70,261.29 L404.14,264.23 L401.48,267.07 L398.72,269.82 L395.86,272.47 L392.91,275.02 L389.87,277.46 L386.74,279.79 L383.54,282.00 L380.26,284.10 L376.90,286.09 L373.47,287.95 L369.99,289.69 L366.44,291.30 L362.83,292.78 L359.18,294.14 L355.48,295.36 L351.74,296.45 L347.96,297.41 L346,299" fill="none" stroke="#111" stroke-width="1.50" stroke-linejoin="round" />
<path d="M320.30,266.70 L323.08,266.65 L325.85,266.49 L328.62,266.23 L331.37,265.86 L334.11,265.39 L336.83,264.81 L339.52,264.13 L342.19,263.35 L344.82,262.47 L347.42,261.49 L349.99,260.41 L352.50,259.24 L354.98,257.97 L357.40,256.60 L359.76,255.15 L362.08,253.61 L364.33,251.98 L366.52,250.27 L368.64,248.47 L370.69,246.60 L372.67,244.65 L374.57,242.62 L376.39,240.53 L378.14,238.36 L379.80,236.14 L381.38,233.85 L382.86,231.50 L384.26,229.10 L385.57,226.65 L386.78,224.15 L387.89,221.60 L388.91,219.02 L389.83,216.39 L390.65,213.74 L391.36,211.05 L391.98,208.34 L392.49,205.61 L392.90,202.86 L393.20,200.10 L393.40,197.33 L393.5,190.5" fill="none" stroke="#111" stroke-width="1.40" stroke-linejoin="round" />
<path d="M427.72,223.01 L426.54,226.64 L425.24,230.22 L423.81,233.75 L422.26,237.23 L420.59,240.66 L418.81,244.02 L416.91,247.32 L414.89,250.55 L412.76,253.71 L410.53,256.80 L408.19,259.80 L405.74,262.72 L403.20,265.56 L400.55,268.30 L397.82,270.95 L394.99,273.51 L392.08,275.96 L389.08,278.31 L386.00,280.56 L382.85,282.70 L379.63,284.72 L376.33,286.63 L372.97,288.43 L369.55,290.11 L366.08,291.67 L362.55,293.11 L358.97,294.42 L355.36,295.61 L351.70,296.67 L348.00,297.61" fill="none" stroke="#111" stroke-width="3.60" stroke-linejoin="round" />
<path d="M424.5,215 L457.3,215 L457.3,187" fill="none" stroke="#111" stroke-width="2.20" stroke-linejoin="round" />
<path d="M221.66,231.94 L222.96,235.02 L224.35,238.05 L225.83,241.05 L227.40,243.99 L229.07,246.88 L230.82,249.73 L232.65,252.51 L234.57,255.24 L236.58,257.92 L238.66,260.52 L240.82,263.07 L243.06,265.54 L245.38,267.95 L247.76,270.28 L250.22,272.54 L252.74,274.73 L255.33,276.84 L257.99,278.86 L260.70,280.81 L263.47,282.67 L266.30,284.44 L269.18,286.13 L272.11,287.73 L275.09,289.24 L278.11,290.66 L281.17,291.98 L284.28,293.21 L287.42,294.35 L290.59,295.38 L293.79,296.32 L294.4,299 L300.5,299 L299,292 L298.57,289.00 L295.09,288.10 L291.65,287.12 L288.23,286.01 L284.86,284.77 L281.53,283.42 L278.25,281.95 L275.02,280.37 L271.84,278.66 L268.73,276.85 L265.68,274.93 L262.70,272.89 L259.79,270.75 L256.96,268.51 L254.20,266.17 L251.53,263.73 L248.95,261.19 L246.45,258.56 L244.05,255.85 L241.75,253.05 L239.55,250.16 L237.44,247.20 L235.45,244.16 L233.56,241.06 L231.78,237.88 L230.11,234.64 L228.56,231.35 L227.13,227.99 L225.81,224.59 L224.62,221.14 L223.54,217.65 L220.3,214.3 L221,232.5 Z" fill="#fff" stroke="none"/><g clip-path="url(#c6)"><path d="M175.74,281.28L239.95,178.54M179.22,283.45L243.42,180.71M182.70,285.63L246.90,182.88M186.18,287.80L250.38,185.06M189.65,289.97L253.85,187.23M193.13,292.15L257.33,189.40M196.61,294.32L260.81,191.57M200.08,296.49L264.28,193.75M203.56,298.66L267.76,195.92M207.04,300.84L271.24,198.09M210.51,303.01L274.72,200.26M213.99,305.18L278.19,202.44M217.47,307.35L281.67,204.61M220.95,309.53L285.15,206.78M224.42,311.70L288.62,208.96M227.90,313.87L292.10,211.13M231.38,316.04L295.58,213.30M234.85,318.22L299.05,215.47M238.33,320.39L302.53,217.65M241.81,322.56L306.01,219.82M245.28,324.74L309.49,221.99M248.76,326.91L312.96,224.16M252.24,329.08L316.44,226.34M255.72,331.25L319.92,228.51M259.19,333.43L323.39,230.68M262.67,335.60L326.87,232.85M266.15,337.77L330.35,235.03M269.62,339.94L333.82,237.20M273.10,342.12L337.30,239.37M276.58,344.29L340.78,241.55M280.05,346.46L344.26,243.72" stroke="#111" stroke-width="2.10" fill="none"/></g><path d="M221.66,231.94 L222.96,235.02 L224.35,238.05 L225.83,241.05 L227.40,243.99 L229.07,246.88 L230.82,249.73 L232.65,252.51 L234.57,255.24 L236.58,257.92 L238.66,260.52 L240.82,263.07 L243.06,265.54 L245.38,267.95 L247.76,270.28 L250.22,272.54 L252.74,274.73 L255.33,276.84 L257.99,278.86 L260.70,280.81 L263.47,282.67 L266.30,284.44 L269.18,286.13 L272.11,287.73 L275.09,289.24 L278.11,290.66 L281.17,291.98 L284.28,293.21 L287.42,294.35 L290.59,295.38 L293.79,296.32 L294.4,299 L300.5,299 L299,292 L298.57,289.00 L295.09,288.10 L291.65,287.12 L288.23,286.01 L284.86,284.77 L281.53,283.42 L278.25,281.95 L275.02,280.37 L271.84,278.66 L268.73,276.85 L265.68,274.93 L262.70,272.89 L259.79,270.75 L256.96,268.51 L254.20,266.17 L251.53,263.73 L248.95,261.19 L246.45,258.56 L244.05,255.85 L241.75,253.05 L239.55,250.16 L237.44,247.20 L235.45,244.16 L233.56,241.06 L231.78,237.88 L230.11,234.64 L228.56,231.35 L227.13,227.99 L225.81,224.59 L224.62,221.14 L223.54,217.65 L220.3,214.3 L221,232.5 Z" fill="none" stroke="#111" stroke-width="1.50" stroke-linejoin="round"/>
<path d="M320.30,272.50 L317.27,272.44 L314.24,272.27 L311.22,271.98 L308.21,271.57 L305.23,271.05 L302.26,270.41 L299.32,269.66 L296.41,268.80 L293.54,267.83 L290.71,266.75 L287.92,265.56 L285.17,264.26 L282.48,262.86 L279.85,261.36 L277.27,259.75 L274.76,258.05 L272.32,256.26 L269.94,254.37 L267.64,252.39 L265.42,250.33 L263.28,248.18 L261.22,245.95 L259.25,243.64 L257.37,241.26 L255.59,238.81 L253.90,236.29 L252.30,233.71 L250.81,231.07 L249.42,228.38 L248.13,225.63 L240,214 C236,207 230,203.5 222.5,201.5 L221.3,184 L242.4,186 L246,190.5 L247,198 L247.28,198.61 L247.63,202.25 L248.15,205.88 L248.86,209.47 L249.75,213.02 L250.82,216.52 L252.05,219.97 L253.46,223.35 L255.04,226.66 L256.78,229.88 L258.68,233.01 L260.73,236.04 L262.93,238.97 L265.28,241.78 L267.76,244.47 L270.38,247.04 L273.12,249.46 L275.98,251.75 L278.94,253.90 L282.02,255.89 L285.19,257.73 L288.44,259.40 L291.78,260.91 L295.18,262.26 L298.65,263.43 L302.18,264.42 L305.75,265.24 L309.35,265.88 L312.99,266.33 L316.64,266.61 L320.30,266.70Z" fill="#fff" stroke="none"/><g clip-path="url(#c7)"><path d="M160.66,232.63L267.32,118.25M163.59,235.36L270.25,120.98M166.51,238.09L273.17,123.71M169.44,240.82L276.10,126.43M172.36,243.54L279.02,129.16M175.29,246.27L281.95,131.89M178.21,249.00L284.88,134.62M181.14,251.73L287.80,137.35M184.06,254.46L290.73,140.07M186.99,257.18L293.65,142.80M189.91,259.91L296.58,145.53M192.84,262.64L299.50,148.26M195.77,265.37L302.43,150.99M198.69,268.09L305.35,153.71M201.62,270.82L308.28,156.44M204.54,273.55L311.20,159.17M207.47,276.28L314.13,161.90M210.39,279.01L317.06,164.63M213.32,281.73L319.98,167.35M216.24,284.46L322.91,170.08M219.17,287.19L325.83,172.81M222.09,289.92L328.76,175.54M225.02,292.65L331.68,178.27M227.94,295.37L334.61,180.99M230.87,298.10L337.53,183.72M233.80,300.83L340.46,186.45M236.72,303.56L343.38,189.18M239.65,306.29L346.31,191.91M242.57,309.01L349.23,194.63M245.50,311.74L352.16,197.36M248.42,314.47L355.09,200.09M251.35,317.20L358.01,202.82M254.27,319.93L360.94,205.54M257.20,322.65L363.86,208.27M260.12,325.38L366.79,211.00M263.05,328.11L369.71,213.73M265.98,330.84L372.64,216.46M268.90,333.57L375.56,219.18M271.83,336.29L378.49,221.91M274.75,339.02L381.41,224.64M277.68,341.75L384.34,227.37" stroke="#111" stroke-width="1.90" fill="none"/></g>
<path d="M393.02,224.37 L391.77,227.16 L390.42,229.90 L388.96,232.58 L387.39,235.21 L385.73,237.77 L383.97,240.27 L382.11,242.70 L380.16,245.05 L378.12,247.33 L376.00,249.52 L373.79,251.64 L371.50,253.66 L369.14,255.60 L366.70,257.44 L364.19,259.19 L361.62,260.83 L358.98,262.38 L356.29,263.83 L353.54,265.17 L350.74,266.40 L347.90,267.52 L345.02,268.53 L342.10,269.43 L339.14,270.22 L336.16,270.89 L333.16,271.45 L330.13,271.89 L327.09,272.21 L324.04,272.41 L320.99,272.50 L317.93,272.46 L314.88,272.31 L311.84,272.05 L308.80,271.66 L305.79,271.16 L302.80,270.54 L299.83,269.80 L296.90,268.95 L293.99,267.99 L291.13,266.92 L288.31,265.74 L285.54,264.44 L282.83,263.05 L280.16,261.55 L277.56,259.94 L275.03,258.24 L272.55,256.44 L270.16,254.55 L267.83,252.56 L265.59,250.49 L263.42,248.33 L261.35,246.09 L259.36,243.77 L257.46,241.37 L255.65,238.91 L253.95,236.37 L252.34,233.77 L250.83,231.11 L249.43,228.40 L248.13,225.63 L240,214 C236,207 230,203.5 222.5,201.5" fill="none" stroke="#111" stroke-width="1.50" stroke-linejoin="round" />
<path d="M242.4,186 L246,190.5 L247,198 L247.28,198.61 L247.63,202.25 L248.15,205.88 L248.86,209.47 L249.75,213.02 L250.82,216.52 L252.05,219.97 L253.46,223.35 L255.04,226.66 L256.78,229.88 L258.68,233.01 L260.73,236.04 L262.93,238.97 L265.28,241.78 L267.76,244.47 L270.38,247.04 L273.12,249.46 L275.98,251.75 L278.94,253.90 L282.02,255.89 L285.19,257.73 L288.44,259.40 L291.78,260.91 L295.18,262.26 L298.65,263.43 L302.18,264.42 L305.75,265.24 L309.35,265.88 L312.99,266.33 L316.64,266.61 L320.30,266.70" fill="none" stroke="#111" stroke-width="1.40" stroke-linejoin="round" />
<path d="M247.80,190.50 L249.07,196.61 L249.39,200.95 L249.98,205.27 L250.83,209.54 L251.94,213.75 L253.30,217.89 L254.91,221.93 L256.77,225.87 L258.87,229.69 L261.19,233.37 L263.73,236.90 L266.49,240.28 L269.45,243.47 L272.59,246.49 L275.91,249.30 L279.40,251.91 L283.05,254.29 L286.83,256.45 L290.73,258.38 L294.75,260.06 L298.86,261.50 L303.05,262.68 L307.31,263.61 L311.61,264.27 L315.95,264.67 L320.30,264.80 L324.65,264.67 L328.99,264.27 L333.29,263.61 L337.55,262.68 L341.74,261.50 L345.85,260.06 L349.87,258.38 L353.77,256.45 L357.55,254.29 L361.20,251.91 L364.69,249.30 L368.01,246.49 L371.15,243.47 L374.11,240.28 L376.87,236.90 L379.41,233.37 L381.73,229.69 L383.83,225.87 L385.69,221.93 L387.30,217.89 L388.66,213.75 L389.77,209.54 L390.62,205.27 L391.21,200.95 L391.53,196.61 L392.80,190.50" fill="none" stroke="#111" stroke-width="1.20" stroke-linejoin="round" />
<g clip-path="url(#c8)"><path d="M242.4,192.5h8.4M253.0,192.5h7.7M262.8,192.5h10.3M274.8,192.5h11.6M288.0,192.5h10.9M300.5,192.5h7.8M310.4,192.5h14.4M326.5,192.5h9.0M337.8,192.5h15.5M355.5,192.5h10.6M368.6,192.5h7.4M378.5,192.5h9.6M389.9,192.5h8.1M238.5,195.4h8.6M249.3,195.4h12.8M264.0,195.4h11.9M277.6,195.4h7.5M286.9,195.4h13.1M302.1,195.4h9.8M314.1,195.4h11.1M327.1,195.4h14.1M343.5,195.4h9.2M354.9,195.4h11.7M369.1,195.4h13.6M384.6,195.4h15.8M241.7,198.3h13.8M257.2,198.3h11.4M270.3,198.3h13.0M285.6,198.3h12.2M300.3,198.3h9.8M312.4,198.3h12.3M326.9,198.3h11.1M340.5,198.3h15.5M358.0,198.3h13.0M372.7,198.3h13.3M388.2,198.3h15.9M242.7,201.2h10.5M255.5,201.2h7.2M264.7,201.2h8.5M275.0,201.2h7.5M284.9,201.2h8.2M294.9,201.2h10.5M307.9,201.2h7.7M317.6,201.2h11.9M332.1,201.2h14.4M348.9,201.2h9.5M360.4,201.2h10.2M373.1,201.2h15.6M390.5,201.2h8.6M243.1,204.1h11.4M256.7,204.1h9.4M267.7,204.1h10.8M280.4,204.1h12.1M295.0,204.1h13.2M310.4,204.1h12.6M325.2,204.1h7.5M335.2,204.1h14.0M351.7,204.1h14.2M367.9,204.1h10.6M380.2,204.1h12.7M394.5,204.1h7.6M243.7,207.0h10.1M255.4,207.0h7.0M264.2,207.0h7.9M274.0,207.0h7.2M283.7,207.0h12.5M298.0,207.0h9.3M309.2,207.0h10.3M321.2,207.0h14.6M338.5,207.0h11.2M351.8,207.0h7.8M361.2,207.0h10.1M373.2,207.0h14.5M389.4,207.0h7.2M240.8,209.9h8.3M251.2,209.9h7.2M260.6,209.9h15.8M278.9,209.9h13.3M294.0,209.9h10.3M306.1,209.9h13.9M322.2,209.9h14.0M338.1,209.9h9.0M349.5,209.9h15.9M367.8,209.9h14.3M384.5,209.9h13.7M240.9,212.8h10.2M252.7,212.8h7.3M261.8,212.8h9.3M273.4,212.8h15.6M291.1,212.8h15.4M309.1,212.8h15.6M326.7,212.8h9.0M337.5,212.8h8.8M348.1,212.8h12.6M363.2,212.8h14.6M379.8,212.8h12.9M395.1,212.8h7.8M237.7,215.7h14.0M254.1,215.7h11.3M267.2,215.7h14.1M283.2,215.7h14.2M300.0,215.7h10.6M312.6,215.7h15.5M330.4,215.7h8.5M340.7,215.7h8.4M351.5,215.7h14.3M367.5,215.7h14.4M384.6,215.7h12.9M240.6,218.6h8.2M250.4,218.6h15.7M268.4,218.6h11.7M282.7,218.6h10.9M296.0,218.6h14.4M312.3,218.6h9.3M323.4,218.6h9.2M334.8,218.6h9.3M346.2,218.6h8.2M356.8,218.6h10.2M369.1,218.6h12.3M383.8,218.6h10.8M241.0,221.5h11.8M254.9,221.5h7.2M264.1,221.5h8.6M274.4,221.5h14.2M290.3,221.5h11.3M303.9,221.5h12.0M317.8,221.5h11.7M331.7,221.5h14.1M347.4,221.5h12.0M361.3,221.5h9.5M373.2,221.5h11.6M386.9,221.5h13.8M241.5,224.4h12.5M256.1,224.4h11.6M270.0,224.4h11.1M283.2,224.4h11.3M297.0,224.4h13.3M312.8,224.4h15.5M330.1,224.4h12.0M344.7,224.4h14.6M361.0,224.4h8.1M371.1,224.4h7.7M380.6,224.4h7.7M390.6,224.4h14.1M243.8,227.3h13.4M259.5,227.3h8.3M270.2,227.3h15.7M287.8,227.3h15.6M305.3,227.3h11.4M319.3,227.3h14.5M335.6,227.3h10.9M348.6,227.3h10.1M360.4,227.3h9.9M372.6,227.3h7.2M381.9,227.3h11.0M394.5,227.3h10.0M240.9,230.2h7.6M251.1,230.2h14.1M267.7,230.2h7.9M277.5,230.2h7.4M287.3,230.2h9.4M298.4,230.2h10.8M311.8,230.2h14.4M328.0,230.2h8.3M338.8,230.2h12.1M353.3,230.2h7.8M362.7,230.2h13.2M378.0,230.2h7.7M388.2,230.2h12.7M244.3,233.1h14.7M260.7,233.1h14.8M277.5,233.1h10.1M289.7,233.1h15.3M306.9,233.1h8.2M317.2,233.1h9.1M328.1,233.1h8.5M338.2,233.1h8.8M348.9,233.1h9.7M361.0,233.1h9.6M372.7,233.1h8.6M383.3,233.1h7.2M392.3,233.1h7.1M240.6,236.0h8.7M251.4,236.0h15.4M268.5,236.0h14.4M284.9,236.0h11.5M298.8,236.0h10.5M311.4,236.0h13.2M327.2,236.0h10.1M339.7,236.0h13.4M355.3,236.0h10.6M367.9,236.0h7.5M377.1,236.0h7.6M387.1,236.0h9.3M244.3,238.9h14.6M261.4,238.9h13.0M276.3,238.9h9.2M287.4,238.9h11.1M300.2,238.9h11.0M313.1,238.9h15.7M331.4,238.9h11.9M345.1,238.9h15.7M362.7,238.9h10.2M374.5,238.9h10.4M387.0,238.9h11.5M241.0,241.8h7.0M249.9,241.8h7.8M259.7,241.8h7.4M268.7,241.8h9.7M280.2,241.8h12.3M294.6,241.8h13.8M310.7,241.8h13.4M326.6,241.8h10.5M339.0,241.8h15.9M356.6,241.8h13.5M372.4,241.8h7.4M382.2,241.8h15.0M239.1,244.7h14.3M255.2,244.7h11.7M269.0,244.7h14.5M285.9,244.7h14.4M302.5,244.7h15.0M319.9,244.7h13.2M334.9,244.7h7.3M343.9,244.7h10.2M355.9,244.7h14.5M372.6,244.7h12.6M387.4,244.7h13.1M245.0,247.6h14.2M261.5,247.6h11.5M275.2,247.6h12.9M289.8,247.6h13.6M305.2,247.6h7.7M314.8,247.6h13.6M330.2,247.6h13.7M346.4,247.6h11.4M359.8,247.6h11.3M373.4,247.6h13.9M389.5,247.6h12.8M243.8,250.5h9.3M255.4,250.5h9.7M267.4,250.5h7.1M276.1,250.5h9.4M287.8,250.5h13.2M303.3,250.5h9.6M315.1,250.5h11.2M328.3,250.5h8.1M338.9,250.5h8.8M350.2,250.5h15.4M367.3,250.5h11.1M380.8,250.5h15.7M242.9,253.4h8.9M254.3,253.4h8.9M265.4,253.4h8.3M275.8,253.4h15.6M293.1,253.4h14.4M309.6,253.4h15.0M326.8,253.4h9.1M338.4,253.4h11.4M351.4,253.4h7.0M360.5,253.4h11.1M373.5,253.4h8.3M383.7,253.4h9.8M245.0,256.3h13.8M261.2,256.3h8.1M271.8,256.3h13.4M287.7,256.3h9.6M299.3,256.3h10.5M312.4,256.3h12.3M326.7,256.3h10.9M339.4,256.3h7.4M348.5,256.3h14.5M364.9,256.3h15.4M382.2,256.3h9.4M393.7,256.3h8.7M237.4,259.2h15.0M254.7,259.2h12.7M269.9,259.2h15.5M287.5,259.2h13.5M302.7,259.2h13.6M318.3,259.2h13.8M334.3,259.2h9.6M345.5,259.2h15.3M362.6,259.2h11.2M375.8,259.2h9.7M387.8,259.2h15.8M239.8,262.1h9.7M251.6,262.1h10.5M263.9,262.1h8.5M274.2,262.1h15.2M291.4,262.1h9.0M302.9,262.1h16.0M321.0,262.1h8.3M331.0,262.1h7.8M340.8,262.1h7.8M350.4,262.1h9.3M361.9,262.1h15.0M379.2,262.1h10.7M392.0,262.1h11.7M242.3,265.0h7.6M251.7,265.0h15.7M269.2,265.0h11.5M282.9,265.0h14.8M299.5,265.0h9.4M310.8,265.0h10.6M323.4,265.0h15.6M341.5,265.0h14.9M358.0,265.0h7.3M367.6,265.0h15.1M384.7,265.0h12.3M241.9,267.9h15.3M259.6,267.9h14.7M276.9,267.9h9.2M287.9,267.9h8.4M298.4,267.9h13.1M314.0,267.9h13.5M329.8,267.9h13.9M345.7,267.9h12.0M359.3,267.9h14.0M375.2,267.9h15.3M392.7,267.9h9.7" stroke="#111" stroke-width="1.1" fill="none"/></g>
<path d="M256.80,190.50 L256.80,196.00 L256.93,199.84 L257.30,203.67 L257.92,207.47 L258.79,211.22 L259.91,214.91 L261.26,218.53 L262.84,222.06 L264.65,225.48 L266.69,228.79 L268.93,231.97 L271.37,235.01 L274.01,237.89 L276.83,240.61 L279.82,243.16 L282.98,245.51 L286.27,247.67 L289.71,249.63 L293.26,251.38 L296.92,252.90 L300.68,254.20 L304.51,255.28 L308.40,256.12 L312.34,256.72 L316.31,257.08 L320.30,257.20 L324.29,257.08 L328.26,256.72 L332.20,256.12 L336.09,255.28 L339.92,254.20 L343.68,252.90 L347.34,251.38 L350.89,249.63 L354.33,247.67 L357.62,245.51 L360.78,243.16 L363.77,240.61 L366.59,237.89 L369.23,235.01 L371.67,231.97 L373.91,228.79 L375.95,225.48 L377.76,222.06 L379.34,218.53 L380.69,214.91 L381.81,211.22 L382.68,207.47 L383.30,203.67 L383.67,199.84 L383.80,196.00 L383.80,190.50Z" fill="#fff"/>
<path d="M256.80,190.50 L256.80,196.00 L256.93,199.84 L257.30,203.67 L257.92,207.47 L258.79,211.22 L259.91,214.91 L261.26,218.53 L262.84,222.06 L264.65,225.48 L266.69,228.79 L268.93,231.97 L271.37,235.01 L274.01,237.89 L276.83,240.61 L279.82,243.16 L282.98,245.51 L286.27,247.67 L289.71,249.63 L293.26,251.38 L296.92,252.90 L300.68,254.20 L304.51,255.28 L308.40,256.12 L312.34,256.72 L316.31,257.08 L320.30,257.20 L324.29,257.08 L328.26,256.72 L332.20,256.12 L336.09,255.28 L339.92,254.20 L343.68,252.90 L347.34,251.38 L350.89,249.63 L354.33,247.67 L357.62,245.51 L360.78,243.16 L363.77,240.61 L366.59,237.89 L369.23,235.01 L371.67,231.97 L373.91,228.79 L375.95,225.48 L377.76,222.06 L379.34,218.53 L380.69,214.91 L381.81,211.22 L382.68,207.47 L383.30,203.67 L383.67,199.84 L383.80,196.00 L383.80,190.50" fill="none" stroke="#111" stroke-width="1.30" stroke-linejoin="round" />
<path d="M260.30,190.50 L260.30,196.00 L260.42,199.68 L260.77,203.34 L261.36,206.98 L262.19,210.57 L263.24,214.11 L264.51,217.57 L266.01,220.95 L267.72,224.23 L269.64,227.40 L271.76,230.44 L274.07,233.35 L276.56,236.11 L279.23,238.72 L282.05,241.15 L285.03,243.41 L288.15,245.48 L291.39,247.35 L294.75,249.02 L298.21,250.48 L301.76,251.73 L305.38,252.76 L309.06,253.56 L312.78,254.14 L316.53,254.48 L320.30,254.60 L324.07,254.48 L327.82,254.14 L331.54,253.56 L335.22,252.76 L338.84,251.73 L342.39,250.48 L345.85,249.02 L349.21,247.35 L352.45,245.48 L355.57,243.41 L358.55,241.15 L361.37,238.72 L364.04,236.11 L366.53,233.35 L368.84,230.44 L370.96,227.40 L372.88,224.23 L374.59,220.95 L376.09,217.57 L377.36,214.11 L378.41,210.57 L379.24,206.98 L379.83,203.34 L380.18,199.68 L380.30,196.00 L380.30,190.50" fill="none" stroke="#111" stroke-width="1.70" stroke-linejoin="round" />
<g clip-path="url(#c9)"><g clip-path="url(#c10)"><path d="M257.4,228.0h10.9M270.5,228.0h8.9M281.7,228.0h14.4M298.4,228.0h8.4M309.0,228.0h9.9M320.8,228.0h15.6M338.9,228.0h7.4M348.8,228.0h12.4M363.2,228.0h9.6M375.0,228.0h11.1M256.7,230.9h8.2M267.3,230.9h15.8M285.7,230.9h12.5M299.8,230.9h7.0M308.6,230.9h15.5M326.0,230.9h10.3M338.8,230.9h9.8M350.8,230.9h10.9M363.3,230.9h12.3M378.1,230.9h8.4M258.7,233.8h7.3M268.1,233.8h14.4M284.7,233.8h11.8M299.0,233.8h8.3M309.5,233.8h10.4M322.1,233.8h8.0M332.5,233.8h7.9M342.1,233.8h14.3M358.9,233.8h10.9M371.8,233.8h9.2M257.1,236.7h8.6M267.4,236.7h11.1M280.3,236.7h12.8M295.5,236.7h14.0M311.6,236.7h10.1M323.8,236.7h7.0M333.1,236.7h10.0M345.0,236.7h7.7M354.8,236.7h12.2M369.0,236.7h14.8M260.1,239.6h11.7M274.3,239.6h11.7M288.2,239.6h7.6M297.8,239.6h11.2M311.0,239.6h10.8M324.0,239.6h11.8M337.9,239.6h8.5M348.4,239.6h15.7M366.2,239.6h7.3M375.1,239.6h11.8M261.3,242.5h8.0M271.3,242.5h15.9M289.3,242.5h11.1M302.5,242.5h11.5M316.0,242.5h13.5M332.1,242.5h13.3M347.4,242.5h12.8M362.7,242.5h8.4M372.9,242.5h12.6M256.9,245.4h12.3M271.6,245.4h11.3M285.3,245.4h15.7M303.0,245.4h14.7M320.0,245.4h15.0M336.7,245.4h15.2M354.3,245.4h15.7M372.5,245.4h9.6M260.9,248.3h12.4M275.7,248.3h8.7M286.4,248.3h7.7M295.9,248.3h8.9M306.5,248.3h16.0M325.0,248.3h11.2M338.5,248.3h13.3M353.9,248.3h10.8M367.0,248.3h12.0M259.1,251.2h12.6M274.0,251.2h8.9M285.1,251.2h14.9M302.4,251.2h12.9M316.9,251.2h10.8M329.4,251.2h7.5M338.8,251.2h11.1M352.3,251.2h12.7M366.8,251.2h13.3M257.9,254.1h9.4M269.4,254.1h10.1M281.8,254.1h11.3M295.1,254.1h11.3M308.5,254.1h13.2M324.0,254.1h14.2M340.3,254.1h14.1M357.0,254.1h15.9M375.2,254.1h7.6M255.3,257.0h7.1M264.4,257.0h9.9M276.6,257.0h12.5M291.0,257.0h8.7M301.4,257.0h7.9M311.7,257.0h15.4M328.9,257.0h13.7M345.2,257.0h8.7M356.1,257.0h11.0M369.6,257.0h14.8M260.4,259.9h14.6M277.2,259.9h11.7M291.3,259.9h13.9M307.7,259.9h9.9M319.3,259.9h13.2M334.2,259.9h12.1M348.8,259.9h10.6M361.5,259.9h8.5M371.8,259.9h12.5" stroke="#111" stroke-width="1.1" fill="none"/></g><path d="M250,225.3 L392,225.3" stroke="#111" stroke-width="1.5"/></g>
<path d="M246,190.3 L396,190.3" fill="none" stroke="#111" stroke-width="1.70" stroke-linejoin="round" />
<path d="M305.63,276.72 L301.87,275.96 L298.15,275.04 L294.47,273.95 L290.85,272.70 L287.28,271.28 L283.79,269.70 L280.37,267.97 L277.03,266.08 L273.78,264.04 L270.63,261.86 L267.58,259.54 L264.64,257.08 L261.81,254.49 L259.11,251.77 L256.53,248.94 L254.08,245.99 L251.77,242.93 L249.59,239.77 L247.57,236.51 L245.69,233.17" fill="none" stroke="#111" stroke-width="1.00" stroke-linejoin="round" stroke-dasharray="4 2"/>
<path d="M304.76,281.64 L300.78,280.84 L296.83,279.87 L292.94,278.72 L289.10,277.39 L285.33,275.89 L281.63,274.21 L278.01,272.38 L274.47,270.38 L271.03,268.22 L267.69,265.91 L264.46,263.45 L261.35,260.84 L258.35,258.10 L255.49,255.22 L252.75,252.22 L250.16,249.09 L247.71,245.85 L245.41,242.51 L243.26,239.06 L241.28,235.52" fill="none" stroke="#111" stroke-width="1.00" stroke-linejoin="round" stroke-dasharray="4 2"/>
<path d="M226,206.5 C236,208.5 243,216 247.5,228" fill="none" stroke="#111" stroke-width="1.00" stroke-linejoin="round" stroke-dasharray="4 2"/>
<path d="M224,211 C232,213 238,221 243,231" fill="none" stroke="#111" stroke-width="1.00" stroke-linejoin="round" stroke-dasharray="4 2"/>
<path d="M317.44,275.45 L314.01,275.26 L310.59,274.92 L307.19,274.45 L303.81,273.83 L300.46,273.06 L297.15,272.16 L293.87,271.13 L290.65,269.95 L287.47,268.64 L284.35,267.20 L281.30,265.63 L278.31,263.93 L275.40,262.11 L272.57,260.17 L269.82,258.12 L267.15,255.95 L264.59,253.67 L262.12,251.28 L259.75,248.79 L257.48,246.21" fill="none" stroke="#111" stroke-width="1.10" stroke-linejoin="round" />
<path d="M306.19,286.33 L302.87,285.68 L299.58,284.92 L296.32,284.05 L293.09,283.06 L289.89,281.96 L286.74,280.75 L283.63,279.43 L280.57,278.00 L277.56,276.47 L274.60,274.83 L271.70,273.09 L268.87,271.25 L266.10,269.31 L263.40,267.28 L260.78,265.15 L258.23,262.94 L255.76,260.63 L253.37,258.24 L251.06,255.77 L248.85,253.22" fill="none" stroke="#111" stroke-width="1.10" stroke-linejoin="round" />
<path d="M314.78,284.94 L312.08,284.67 L309.39,284.31 L306.71,283.88 L304.04,283.37 L301.39,282.79 L298.75,282.13 L296.14,281.39 L293.55,280.58 L290.98,279.70 L288.44,278.74 L285.93,277.71 L283.45,276.60 L281.00,275.43 L278.58,274.18 L276.21,272.87 L273.87,271.49 L271.57,270.04 L269.32,268.53 L267.11,266.95 L264.94,265.31" fill="none" stroke="#111" stroke-width="1.00" stroke-linejoin="round" />
<path d="M244.3,239.5 L250.8,250.5 L246.3,248.3 L242.3,252Z" fill="#111"/>
<path d="M274,262 l3,-2 l0.5,3 l3,1 l-3,1.5 l0,3 l-2.5,-2 l-3,1 l1.5,-3 l-2,-2.5z" fill="none" stroke="#111" stroke-width="0.9"/>
<path d="M311,284 C314,287 316.5,291 317.5,297" fill="none" stroke="#111" stroke-width="1.10" stroke-linejoin="round" />
<path d="M308.5,282 L315,284.5 L311.5,288Z" fill="#111"/>
<path d="M367.74,275.14 L363.58,277.23 L359.32,279.11 L354.97,280.78 L350.54,282.23 L346.06,283.47 L341.51,284.49 L336.92,285.28 L332.30,285.85 L327.66,286.19 L323.00,286.30 L318.34,286.19 L313.70,285.85 L309.08,285.28 L304.49,284.49 L299.94,283.47 L295.46,282.23 L291.03,280.78 L286.68,279.11 L282.42,277.23 L278.26,275.14" fill="none" stroke="#111" stroke-width="1.70" stroke-linejoin="round" />
<path d="M367.33,260.67 L363.14,263.42 L358.80,265.90 L354.30,268.12 L349.69,270.05 L344.96,271.70 L340.14,273.06 L335.24,274.13 L330.29,274.89 L325.31,275.35 L320.30,275.50 L315.29,275.35 L310.31,274.89 L305.36,274.13 L300.46,273.06 L295.64,271.70 L290.91,270.05 L286.30,268.12 L281.80,265.90 L277.46,263.42 L273.27,260.67" fill="none" stroke="#111" stroke-width="0.90" stroke-linejoin="round" />
<path d="M362.30,266.25 L358.44,268.34 L354.47,270.24 L350.40,271.92 L346.26,273.39 L342.04,274.64 L337.76,275.66 L333.44,276.47 L329.08,277.04 L324.70,277.38 L320.30,277.50 L315.90,277.38 L311.52,277.04 L307.16,276.47 L302.84,275.66 L298.56,274.64 L294.34,273.39 L290.20,271.92 L286.13,270.24 L282.16,268.34 L278.30,266.25" fill="none" stroke="#111" stroke-width="0.90" stroke-linejoin="round" />
<path d="M398.77,231.77 L397.63,234.62 L396.38,237.43 L395.03,240.20 L393.58,242.93 L392.03,245.61 L390.38,248.25 L388.63,250.84 L386.46,253.07 L384.22,255.23 L381.91,257.30 L379.53,259.28 L377.09,261.18 L374.59,262.99 L372.03,264.70 L369.42,266.32 L366.76,267.85 L364.05,269.28 L361.20,270.43" fill="none" stroke="#111" stroke-width="1.00" stroke-linejoin="round" stroke-dasharray="2.5 2"/>
<path d="M401.78,235.02 L400.52,237.96 L399.15,240.88 L397.67,243.75 L396.09,246.57 L394.41,249.35 L392.63,252.07 L390.57,254.59 L388.28,256.89 L385.90,259.10 L383.46,261.23 L380.94,263.26 L378.36,265.20 L375.72,267.05 L373.03,268.80 L370.27,270.45" fill="none" stroke="#111" stroke-width="1.00" stroke-linejoin="round" stroke-dasharray="2.5 2"/>
<path d="M393.94,231.02 L392.82,233.70 L391.60,236.34 L390.29,238.95 L388.88,241.52 L387.38,244.05 L385.79,246.53 L383.93,248.82 L381.84,250.89 L379.68,252.88 L377.45,254.79 L375.17,256.62 L372.83,258.36 L370.43,260.02 L367.98,261.59 L365.48,263.07 L362.94,264.46 L360.30,265.67 L357.59,266.69 L354.86,267.61 L352.10,268.42 L349.33,269.14 L346.56,269.75 L343.77,270.27 L340.98,270.68 L338.23,271.16 L335.47,271.54 L332.71,271.82 L329.94,272.01" fill="none" stroke="#111" stroke-width="3.00" stroke-linejoin="round" />
<path d="M378.19,257.80 L375.80,259.65 L373.36,261.41 L370.86,263.08 L368.30,264.66 L365.70,266.15 L363.05,267.55 L360.26,268.66 L357.45,269.68 L354.62,270.58 L351.77,271.39 L348.90,272.09 L346.03,272.68 L343.15,273.18 L340.28,273.65 L337.43,274.10 L334.57,274.45 L331.71,274.70 L328.85,274.85 L325.99,274.90" fill="none" stroke="#111" stroke-width="1.30" stroke-linejoin="round" />
<path d="M382.90,267.67 L381.01,269.11 L379.09,270.51 L377.13,271.85 L375.14,273.15 L373.11,274.40 L371.06,275.60 L368.98,276.75 L366.87,277.85 L364.74,278.89 L362.58,279.89 L360.39,280.83 L358.19,281.72 L355.96,282.55 L353.71,283.33 L351.45,284.05 L349.17,284.72 L346.87,285.33 L344.56,285.88 L342.23,286.38 L339.90,286.82" fill="none" stroke="#111" stroke-width="1.10" stroke-linejoin="round" />
<path d="M184,169 L221.04,168.97 L223.07,167.45 L225.13,165.96 L227.21,164.50 L229.31,163.07 L231.43,161.67 L233.57,160.31 L235.73,158.98 L237.91,157.68 L240.11,156.41 L242.34,155.18 L244.57,153.98 L246.83,152.82 L249.11,151.69 L251.40,150.60 L253.71,149.54 L256.03,148.52 L258.37,147.53 L260.72,146.58 L263.09,145.66 L265.48,144.78 L267.87,143.94 L270.28,143.13 L272.70,142.36 L275.13,141.63 L277.57,140.93 L280.02,140.27 L282.49,139.65 L284.96,139.07 L287.44,138.52 L289.93,138.02 L290,132.5 L299.4,132.5 L299.4,147 L290.07,146.01 L287.80,146.58 L285.54,147.19 L283.29,147.83 L281.06,148.52 L278.84,149.24 L276.62,150.01 L274.43,150.81 L272.24,151.64 L270.08,152.52 L267.92,153.43 L265.79,154.38 L263.66,155.37 L261.56,156.39 L259.48,157.45 L257.41,158.54 L255.36,159.67 L253.34,160.84 L251.33,162.04 L249.34,163.27 L247.38,164.54 L245.43,165.84 L243.51,167.18 L241.62,168.55 L239.74,169.95 L237.90,171.38 L236.07,172.84 L234.27,174.34 L232.50,175.86 L230.76,177.42 L229.04,179.01 L184,179Z" fill="#fff" stroke="none"/><g clip-path="url(#c11)"><path d="M248.68,53.41L344.27,155.92M245.68,56.21L341.27,158.72M242.68,59.01L338.27,161.52M239.68,61.80L335.27,164.31M236.68,64.60L332.28,167.11M233.68,67.39L329.28,169.90M230.69,70.19L326.28,172.70M227.69,72.99L323.28,175.50M224.69,75.78L320.28,178.29M221.69,78.58L317.28,181.09M218.69,81.38L314.28,183.89M215.69,84.17L311.29,186.68M212.70,86.97L308.29,189.48M209.70,89.76L305.29,192.27M206.70,92.56L302.29,195.07M203.70,95.36L299.29,197.87M200.70,98.15L296.29,200.66M197.70,100.95L293.29,203.46M194.70,103.74L290.30,206.26M191.71,106.54L287.30,209.05M188.71,109.34L284.30,211.85M185.71,112.13L281.30,214.64M182.71,114.93L278.30,217.44M179.71,117.73L275.30,220.24M176.71,120.52L272.30,223.03M173.71,123.32L269.31,225.83M170.72,126.11L266.31,228.62M167.72,128.91L263.31,231.42M164.72,131.71L260.31,234.22M161.72,134.50L257.31,237.01M158.72,137.30L254.31,239.81M155.72,140.10L251.32,242.61M152.72,142.89L248.32,245.40M149.73,145.69L245.32,248.20M146.73,148.48L242.32,250.99M143.73,151.28L239.32,253.79M140.73,154.08L236.32,256.59" stroke="#111" stroke-width="1.70" fill="none"/></g><path d="M184,169 L221.04,168.97 L223.07,167.45 L225.13,165.96 L227.21,164.50 L229.31,163.07 L231.43,161.67 L233.57,160.31 L235.73,158.98 L237.91,157.68 L240.11,156.41 L242.34,155.18 L244.57,153.98 L246.83,152.82 L249.11,151.69 L251.40,150.60 L253.71,149.54 L256.03,148.52 L258.37,147.53 L260.72,146.58 L263.09,145.66 L265.48,144.78 L267.87,143.94 L270.28,143.13 L272.70,142.36 L275.13,141.63 L277.57,140.93 L280.02,140.27 L282.49,139.65 L284.96,139.07 L287.44,138.52 L289.93,138.02 L290,132.5 L299.4,132.5 L299.4,147 L290.07,146.01 L287.80,146.58 L285.54,147.19 L283.29,147.83 L281.06,148.52 L278.84,149.24 L276.62,150.01 L274.43,150.81 L272.24,151.64 L270.08,152.52 L267.92,153.43 L265.79,154.38 L263.66,155.37 L261.56,156.39 L259.48,157.45 L257.41,158.54 L255.36,159.67 L253.34,160.84 L251.33,162.04 L249.34,163.27 L247.38,164.54 L245.43,165.84 L243.51,167.18 L241.62,168.55 L239.74,169.95 L237.90,171.38 L236.07,172.84 L234.27,174.34 L232.50,175.86 L230.76,177.42 L229.04,179.01 L184,179Z" fill="none" stroke="#111" stroke-width="1.70" stroke-linejoin="round"/>
<path d="M343.8,133.4 L352.5,133.4 L352.5,137.8 L358,140.5 C364,142.5 369,141 371.5,136 C373.5,132 374.8,130 374.8,127.3 C380,128.5 384,126 390,126.3 C398,127 404,126.5 408,125 L414.8,123.5 L414.8,171.5 L456.5,171.5 L456.5,181 L413.5,181 C382,160 358,150 343.8,147.7Z" fill="#fff" stroke="none"/><g clip-path="url(#c12)"><path d="M405.74,49.45L502.20,152.89M402.75,52.24L499.21,155.69M399.75,55.04L496.21,158.48M396.75,57.84L493.21,161.28M393.75,60.63L490.21,164.07M390.75,63.43L487.21,166.87M387.75,66.23L484.21,169.67M384.75,69.02L481.21,172.46M381.76,71.82L478.22,175.26M378.76,74.61L475.22,178.05M375.76,77.41L472.22,180.85M372.76,80.21L469.22,183.65M369.76,83.00L466.22,186.44M366.76,85.80L463.22,189.24M363.76,88.59L460.22,192.04M360.77,91.39L457.23,194.83M357.77,94.19L454.23,197.63M354.77,96.98L451.23,200.42M351.77,99.78L448.23,203.22M348.77,102.58L445.23,206.02M345.77,105.37L442.23,208.81M342.77,108.17L439.23,211.61M339.78,110.96L436.24,214.41M336.78,113.76L433.24,217.20M333.78,116.56L430.24,220.00M330.78,119.35L427.24,222.79M327.78,122.15L424.24,225.59M324.78,124.95L421.24,228.39M321.78,127.74L418.24,231.18M318.79,130.54L415.25,233.98M315.79,133.33L412.25,236.77M312.79,136.13L409.25,239.57M309.79,138.93L406.25,242.37M306.79,141.72L403.25,245.16M303.79,144.52L400.25,247.96M300.79,147.31L397.25,250.76M297.80,150.11L394.26,253.55" stroke="#111" stroke-width="1.70" fill="none"/></g><path d="M343.8,133.4 L352.5,133.4 L352.5,137.8 L358,140.5 C364,142.5 369,141 371.5,136 C373.5,132 374.8,130 374.8,127.3 C380,128.5 384,126 390,126.3 C398,127 404,126.5 408,125 L414.8,123.5 L414.8,171.5 L456.5,171.5 L456.5,181 L413.5,181 C382,160 358,150 343.8,147.7Z" fill="none" stroke="#111" stroke-width="1.80" stroke-linejoin="round"/>
<path d="M343.8,147.7 C358,150 382,160 413.5,181" fill="none" stroke="#111" stroke-width="2.40" stroke-linejoin="round" />
<path d="M184,181.8 L229,181.8 C245,179.6 258,178.2 268,178.6 C280,179.4 287,183.5 296,185.7 L345,185.7 C352,185.2 362,181.2 375,181 C388,181 394,184 404,184.2 L456.5,184.2" fill="none" stroke="#111" stroke-width="4.5"/>
<path d="M184,181.8 L229,181.8 C245,179.6 258,178.2 268,178.6 C280,179.4 287,183.5 296,185.7 L345,185.7 C352,185.2 362,181.2 375,181 C388,181 394,184 404,184.2 L456.5,184.2" fill="none" stroke="#fff" stroke-width="2.1" stroke-dasharray="2.8 0.9"/>
<path d="M246,187 L290,187 M350,187.8 L396,187.8" fill="none" stroke="#111" stroke-width="1.20" stroke-linejoin="round" />
<path d="M285.3,166.3 L355.2,166.3 L348.3,182.8 L291.7,182.8Z" fill="#fff" stroke="#111" stroke-width="1.60" stroke-linejoin="round"/>
<g clip-path="url(#c13)"><path d="M287.2,166 L293.8,183" stroke="#111" stroke-width="1.55"/><path d="M353.3,166 L346.7,183" stroke="#111" stroke-width="1.55"/><path d="M289.6,166 L296.2,183" stroke="#111" stroke-width="1.55"/><path d="M350.9,166 L344.2,183" stroke="#111" stroke-width="1.55"/><path d="M292.1,166 L298.7,183" stroke="#111" stroke-width="1.55"/><path d="M348.4,166 L341.8,183" stroke="#111" stroke-width="1.55"/><path d="M294.6,166 L301.2,183" stroke="#111" stroke-width="1.55"/><path d="M345.9,166 L339.3,183" stroke="#111" stroke-width="1.55"/><path d="M297.0,166 L303.6,183" stroke="#111" stroke-width="1.55"/><path d="M343.5,166 L336.9,183" stroke="#111" stroke-width="1.55"/><path d="M299.4,166 L306.1,183" stroke="#111" stroke-width="1.55"/><path d="M341.1,166 L334.4,183" stroke="#111" stroke-width="1.55"/><path d="M301.9,166 L308.5,183" stroke="#111" stroke-width="1.55"/><path d="M338.6,166 L332.0,183" stroke="#111" stroke-width="1.55"/><path d="M304.3,166 L310.9,183" stroke="#111" stroke-width="1.55"/><path d="M336.2,166 L329.6,183" stroke="#111" stroke-width="1.55"/><path d="M306.8,166 L313.4,183" stroke="#111" stroke-width="1.55"/><path d="M333.7,166 L327.1,183" stroke="#111" stroke-width="1.55"/><path d="M308.5,168.5 L311,180" stroke="#111" stroke-width="0.9" stroke-dasharray="1.5 2.2"/><path d="M331,168.5 L327,181" stroke="#111" stroke-width="0.9" stroke-dasharray="1.5 2.2"/></g>
<path d="M299.4,129 L344.2,129 L344.2,166.3 L299.4,166.3Z" fill="#fff" stroke="#111" stroke-width="1.60" stroke-linejoin="round"/>
<path d="M300.9,129 L300.9,166" fill="none" stroke="#111" stroke-width="1.30" stroke-linejoin="round" />
<path d="M302.7,129 L302.7,166" fill="none" stroke="#111" stroke-width="1.20" stroke-linejoin="round" />
<path d="M304.8,129 L304.8,166" fill="none" stroke="#111" stroke-width="1.20" stroke-linejoin="round" />
<path d="M307.6,129 L307.6,166" fill="none" stroke="#111" stroke-width="1.10" stroke-linejoin="round" />
<path d="M333.3,129 L333.3,166" fill="none" stroke="#111" stroke-width="1.10" stroke-linejoin="round" />
<path d="M335.8,129 L335.8,166" fill="none" stroke="#111" stroke-width="1.20" stroke-linejoin="round" />
<path d="M338.3,129 L338.3,166" fill="none" stroke="#111" stroke-width="1.30" stroke-linejoin="round" />
<path d="M340.5,129 L340.5,166" fill="none" stroke="#111" stroke-width="1.30" stroke-linejoin="round" />
<path d="M342.4,129 L342.4,166" fill="none" stroke="#111" stroke-width="1.30" stroke-linejoin="round" />
<path d="M311.3,109 C309.5,118 304,125 299.4,129 L344.2,129 C339.5,125 334.3,118 332.6,109 C332.4,105 333,102 334.5,99.4 A17.8,17.8 0 1,0 308.1,99.4 C309.8,102 311.5,105 311.3,109Z" fill="#fff" stroke="#111" stroke-width="1.60" stroke-linejoin="round"/>
<g clip-path="url(#c14)"><path d="M300,70.5 L345,70.5" stroke="#111" stroke-width="1.0"/><path d="M300,72.8 L345,72.8" stroke="#111" stroke-width="1.0"/><path d="M300,75.2 L345,75.2" stroke="#111" stroke-width="1.0"/><path d="M300,77.5 L345,77.5" stroke="#111" stroke-width="1.0"/><path d="M300,79.9 L345,79.9" stroke="#111" stroke-width="1.0"/><path d="M300,82.2 L345,82.2" stroke="#111" stroke-width="1.0"/><path d="M300,84.6 L345,84.6" stroke="#111" stroke-width="1.0"/><path d="M300,86.9 L345,86.9" stroke="#111" stroke-width="1.0"/><path d="M300,89.3 L345,89.3" stroke="#111" stroke-width="1.0"/><path d="M300,91.6 L345,91.6" stroke="#111" stroke-width="1.0"/><path d="M300,94.0 L345,94.0" stroke="#111" stroke-width="1.0"/><path d="M300,96.3 L345,96.3" stroke="#111" stroke-width="1.0"/><path d="M300,98.7 L345,98.7" stroke="#111" stroke-width="1.0"/><path d="M300,101.0 L345,101.0" stroke="#111" stroke-width="1.0"/><path d="M300,103.4 L345,103.4" stroke="#111" stroke-width="1.0"/><path d="M300,105.7 L345,105.7" stroke="#111" stroke-width="1.0"/><path d="M312.8,107 C311.8,117 307.1,124 302.6,129" stroke="#111" stroke-width="1.1" fill="none"/><path d="M331.2,107 C332.2,117 336.9,124 341.4,129" stroke="#111" stroke-width="1.1" fill="none"/><path d="M314.6,107 C313.6,117 308.2,124 304.2,129" stroke="#111" stroke-width="1.1" fill="none"/><path d="M329.4,107 C330.4,117 335.8,124 339.8,129" stroke="#111" stroke-width="1.1" fill="none"/><path d="M316.4,107 C315.4,117 309.2,124 305.9,129" stroke="#111" stroke-width="1.1" fill="none"/><path d="M327.6,107 C328.6,117 334.8,124 338.1,129" stroke="#111" stroke-width="1.1" fill="none"/><path d="M318.2,107 C317.2,117 310.3,124 307.5,129" stroke="#111" stroke-width="1.1" fill="none"/><path d="M325.8,107 C326.8,117 333.7,124 336.5,129" stroke="#111" stroke-width="1.1" fill="none"/></g>
<path d="M314.6,166 L314.6,125 A6.5,6.5 0 0,1 327.6,125 L327.6,166Z" fill="#fff" stroke="#111" stroke-width="1.3"/>
<path d="M310.8,130 L310.8,164" fill="none" stroke="#111" stroke-width="0.90" stroke-linejoin="round" stroke-dasharray="1.5 2.2"/>
<path d="M329.8,130 L329.8,164" fill="none" stroke="#111" stroke-width="0.90" stroke-linejoin="round" stroke-dasharray="1.5 2.2"/>
<path d="M326.50,89.90 L321.30,92.90 L316.10,89.90 L316.10,83.90 L321.30,80.90 L326.50,83.90Z" fill="#fff" stroke="#111" stroke-width="1.90" stroke-linejoin="round"/>
<path d="M374.8,127.3 L374.8,86 A20,20 0 0,1 414.8,86 L414.8,123.5 L408,125 C404,126.5 398,127 390,126.3 C384,126 380,128.5 374.8,127.3Z" fill="#fff" stroke="#111" stroke-width="1.90" stroke-linejoin="round"/>
<path d="M414.6,84 L414.6,171.5" fill="none" stroke="#111" stroke-width="2.80" stroke-linejoin="round" />
<path d="M374.8,127.3 C380,128.5 384,126 390,126.3 C398,127 404,126.5 408,125 L414.8,123.5" fill="none" stroke="#111" stroke-width="2.30" stroke-linejoin="round" />
<path d="M377.6,125 L377.6,87 A17.2,17.2 0 0,1 386,71.5" fill="none" stroke="#111" stroke-width="1.00" stroke-linejoin="round" />
<path d="M379.8,123 L379.8,95" fill="none" stroke="#111" stroke-width="0.80" stroke-linejoin="round" />
<path d="M411.9,122.5 L411.9,86 A17.2,17.2 0 0,0 404.5,72" fill="none" stroke="#111" stroke-width="1.20" stroke-linejoin="round" />
<path d="M409.6,122.8 L409.6,84 A15,15 0 0,0 405,75.5" fill="none" stroke="#111" stroke-width="1.00" stroke-linejoin="round" />
<path d="M407.4,123.2 L407.4,90" fill="none" stroke="#111" stroke-width="0.80" stroke-linejoin="round" />
<path d="M383.5,96 L383.5,120" fill="none" stroke="#111" stroke-width="0.90" stroke-linejoin="round" stroke-dasharray="2 2.2"/>
<path d="M402,96 L402,118" fill="none" stroke="#111" stroke-width="0.90" stroke-linejoin="round" stroke-dasharray="2 2.2"/>
<path d="M400.94,86.20 L394.70,89.80 L388.46,86.20 L388.46,79.00 L394.70,75.40 L400.94,79.00Z" fill="#fff" stroke="#111" stroke-width="2.10" stroke-linejoin="round"/>
<path d="M394,194.7 L455,194.7 L455,204.5 L394,204.5Z" fill="#fff" stroke="#111" stroke-width="1.2"/>
<path d="M396,197 L409,197 M411.5,197 L427,197" fill="none" stroke="#111" stroke-width="1.00" stroke-linejoin="round" />
<path d="M399,199.7 L417,199.7 M419.5,199.7 L426,199.7" fill="none" stroke="#111" stroke-width="0.90" stroke-linejoin="round" />
<path d="M396,202.3 L405,202.3 M407.5,202.3 L427,202.3" fill="none" stroke="#111" stroke-width="1.00" stroke-linejoin="round" />
<path d="M427.3,194.7 L427.3,204.5" fill="none" stroke="#111" stroke-width="1.20" stroke-linejoin="round" />
<path d="M428.0,194.7 L429.0,204.5" fill="none" stroke="#111" stroke-width="1.50" stroke-linejoin="round" />
<path d="M430.9,194.7 L431.9,204.5" fill="none" stroke="#111" stroke-width="1.50" stroke-linejoin="round" />
<path d="M433.8,194.7 L434.8,204.5" fill="none" stroke="#111" stroke-width="1.50" stroke-linejoin="round" />
<path d="M436.7,194.7 L437.7,204.5" fill="none" stroke="#111" stroke-width="1.50" stroke-linejoin="round" />
<path d="M439.6,194.7 L440.6,204.5" fill="none" stroke="#111" stroke-width="1.50" stroke-linejoin="round" />
<path d="M442.5,194.7 L443.5,204.5" fill="none" stroke="#111" stroke-width="1.50" stroke-linejoin="round" />
<path d="M445.4,194.7 L446.4,204.5" fill="none" stroke="#111" stroke-width="1.50" stroke-linejoin="round" />
<path d="M448.3,194.7 L449.3,204.5" fill="none" stroke="#111" stroke-width="1.50" stroke-linejoin="round" />
<path d="M451.2,194.7 L452.2,204.5" fill="none" stroke="#111" stroke-width="1.50" stroke-linejoin="round" />
<path d="M454.1,194.7 L455.1,204.5" fill="none" stroke="#111" stroke-width="1.50" stroke-linejoin="round" />
<path d="M456,195 L461.4,195 L461.4,204.5 L456,204.5Z" fill="#fff" stroke="#111" stroke-width="1.3"/>
<path d="M457.8,195 L458.3,204.5 M459.8,195 L460.3,204.5" fill="none" stroke="#111" stroke-width="1.30" stroke-linejoin="round" />
<path d="M461.4,189.8 C468,189.5 474.8,186 474.8,178 L474.8,175.3 L491.4,175.3 C494,175.5 496.5,177.5 496.5,181 L496.5,186 C496.5,203 486,212.6 468,212.6 L461.4,212.6 Z" fill="#fff" stroke="#111" stroke-width="1.70" stroke-linejoin="round"/>
<path d="M463,211.8 C485,212.5 496,203 496,186 L496,179" fill="none" stroke="#111" stroke-width="3.00" stroke-linejoin="round" />
<path d="M461.6,189.8 L461.6,212.6" fill="none" stroke="#111" stroke-width="2.20" stroke-linejoin="round" />
<path d="M492.3,177 L492.3,187 C491.5,200 483,207.5 467,208.5" fill="none" stroke="#111" stroke-width="1.00" stroke-linejoin="round" />
<path d="M478.5,178 L478.5,184 C478,191 474,195 466,196" fill="none" stroke="#111" stroke-width="1.00" stroke-linejoin="round" />
<path d="M487.5,181 L487.5,188 C486.5,197 481,202.5 470,204" fill="none" stroke="#111" stroke-width="1.00" stroke-linejoin="round" stroke-dasharray="5 2.5"/>
<path d="M483.5,183 L483.5,188 C482.5,194 478.5,198.5 470,200" fill="none" stroke="#111" stroke-width="1.00" stroke-linejoin="round" stroke-dasharray="3 2.5"/>
<path d="M474.8,166.2 L491.4,166.2 L491.4,175.3 L474.8,175.3Z" fill="#fff" stroke="#111" stroke-width="1.5"/>
<path d="M474.8,169.2 L491.4,169.2 M474.8,172.2 L491.4,172.2" fill="none" stroke="#111" stroke-width="1.40" stroke-linejoin="round" />
<path d="M478,162 L488.3,162 L488.3,166.2 L478,166.2Z" fill="#fff" stroke="#111" stroke-width="1.6"/>
<path d="M359.5,173.5 L353.5,180" fill="none" stroke="#111" stroke-width="0.90" stroke-linejoin="round" />
<path d="M352.5,181 L354,176.5 L357,179.5Z" fill="#111"/></g></svg></body></html>
